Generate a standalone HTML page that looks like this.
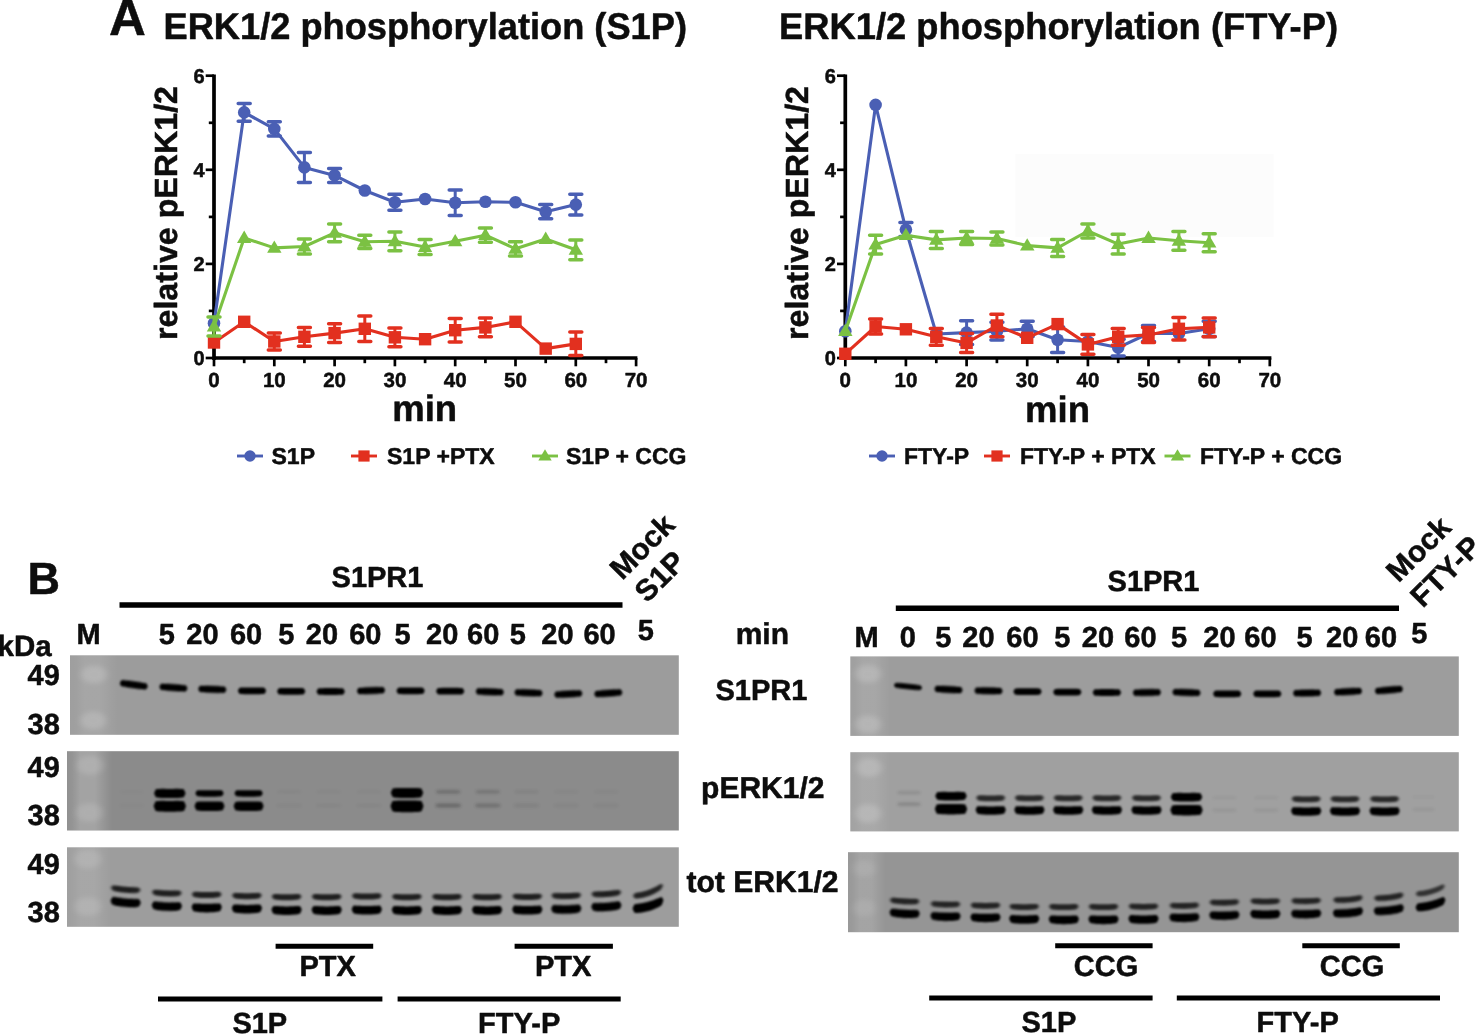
<!DOCTYPE html>
<html><head><meta charset="utf-8"><title>ERK1/2 phosphorylation</title>
<style>html,body{margin:0;padding:0;background:#fff}svg{display:block;opacity:.999}text{stroke:#0d0d0d;stroke-width:.5px;stroke-linejoin:round;text-rendering:geometricPrecision}</style></head>
<body>
<svg width="1475" height="1035" viewBox="0 0 1475 1035" font-family="Liberation Sans, Arial, Helvetica, sans-serif" font-weight="bold" fill="#0d0d0d">
<defs>
<filter id="b1" x="-20%" y="-100%" width="140%" height="300%"><feGaussianBlur stdDeviation="1.1 0.9"/></filter>
<filter id="b15" x="-20%" y="-100%" width="140%" height="300%"><feGaussianBlur stdDeviation="1.4 1.15"/></filter>
<filter id="b2" x="-30%" y="-100%" width="160%" height="300%"><feGaussianBlur stdDeviation="1.8 1.6"/></filter>
<filter id="b3" x="-50%" y="-50%" width="200%" height="200%"><feGaussianBlur stdDeviation="3.2 2.6"/></filter>
<linearGradient id="lane" x1="0" x2="1" y1="0" y2="0"><stop offset="0" stop-color="#fff" stop-opacity=".25"/><stop offset=".12" stop-color="#fff" stop-opacity=".4"/><stop offset=".3" stop-color="#fff" stop-opacity="1"/><stop offset=".62" stop-color="#fff" stop-opacity="1"/><stop offset=".82" stop-color="#fff" stop-opacity=".45"/><stop offset="1" stop-color="#fff" stop-opacity="0"/></linearGradient>
</defs>
<rect width="1475" height="1035" fill="#fff"/>

<text x="109" y="34.8" font-size="51" text-anchor="start" >A</text>
<text x="163.5" y="38.6" font-size="37.2" text-anchor="start" textLength="523.5" lengthAdjust="spacingAndGlyphs" >ERK1/2 phosphorylation (S1P)</text>
<text x="779" y="38.6" font-size="37.2" text-anchor="start" textLength="559" lengthAdjust="spacingAndGlyphs" >ERK1/2 phosphorylation (FTY-P)</text>
<rect x="1015.5" y="154" width="258" height="83" fill="#fcfcfc"/>
<path d="M214 74.4V359.9M212.2 358H637.4" stroke="#000" stroke-width="3.7" fill="none"/>
<path d="M205.7 358.0H214" stroke="#000" stroke-width="2.7"/>
<path d="M208.8 310.9H214" stroke="#000" stroke-width="2.7"/>
<path d="M205.7 263.9H214" stroke="#000" stroke-width="2.7"/>
<path d="M208.8 216.9H214" stroke="#000" stroke-width="2.7"/>
<path d="M205.7 169.8H214" stroke="#000" stroke-width="2.7"/>
<path d="M208.8 122.8H214" stroke="#000" stroke-width="2.7"/>
<path d="M205.7 75.7H214" stroke="#000" stroke-width="2.7"/>
<path d="M214.0 358V366.3" stroke="#000" stroke-width="2.7"/>
<path d="M244.2 358V363.2" stroke="#000" stroke-width="2.7"/>
<path d="M274.3 358V366.3" stroke="#000" stroke-width="2.7"/>
<path d="M304.4 358V363.2" stroke="#000" stroke-width="2.7"/>
<path d="M334.6 358V366.3" stroke="#000" stroke-width="2.7"/>
<path d="M364.8 358V363.2" stroke="#000" stroke-width="2.7"/>
<path d="M394.9 358V366.3" stroke="#000" stroke-width="2.7"/>
<path d="M425.1 358V363.2" stroke="#000" stroke-width="2.7"/>
<path d="M455.2 358V366.3" stroke="#000" stroke-width="2.7"/>
<path d="M485.4 358V363.2" stroke="#000" stroke-width="2.7"/>
<path d="M515.5 358V366.3" stroke="#000" stroke-width="2.7"/>
<path d="M545.7 358V363.2" stroke="#000" stroke-width="2.7"/>
<path d="M575.8 358V366.3" stroke="#000" stroke-width="2.7"/>
<path d="M606.0 358V363.2" stroke="#000" stroke-width="2.7"/>
<path d="M636.1 358V366.3" stroke="#000" stroke-width="2.7"/>
<polyline fill="none" stroke="#4a5fb4" stroke-width="3.1" stroke-linejoin="round" points="214.0,323.2 244.2,112.4 274.3,128.9 304.4,167.4 334.6,175.4 364.8,190.5 394.9,202.3 425.1,199.0 455.2,202.7 485.4,201.8 515.5,202.3 545.7,211.7 575.8,204.6"/>
<circle cx="214.0" cy="323.2" r="6.3" fill="#4a5fb4"/>
<path d="M244.2 103.5V121.3" stroke="#4a5fb4" stroke-width="3" fill="none"/>
<path d="M238.2 103.5h12M238.2 121.3h12" stroke="#4a5fb4" stroke-width="3.5" stroke-linecap="round" fill="none"/>
<circle cx="244.2" cy="112.4" r="6.3" fill="#4a5fb4"/>
<path d="M274.3 121.8V135.9" stroke="#4a5fb4" stroke-width="3" fill="none"/>
<path d="M268.3 121.8h12M268.3 135.9h12" stroke="#4a5fb4" stroke-width="3.5" stroke-linecap="round" fill="none"/>
<circle cx="274.3" cy="128.9" r="6.3" fill="#4a5fb4"/>
<path d="M304.4 152.4V182.5" stroke="#4a5fb4" stroke-width="3" fill="none"/>
<path d="M298.4 152.4h12M298.4 182.5h12" stroke="#4a5fb4" stroke-width="3.5" stroke-linecap="round" fill="none"/>
<circle cx="304.4" cy="167.4" r="6.3" fill="#4a5fb4"/>
<path d="M334.6 168.4V182.5" stroke="#4a5fb4" stroke-width="3" fill="none"/>
<path d="M328.6 168.4h12M328.6 182.5h12" stroke="#4a5fb4" stroke-width="3.5" stroke-linecap="round" fill="none"/>
<circle cx="334.6" cy="175.4" r="6.3" fill="#4a5fb4"/>
<circle cx="364.8" cy="190.5" r="6.3" fill="#4a5fb4"/>
<path d="M394.9 194.3V210.3" stroke="#4a5fb4" stroke-width="3" fill="none"/>
<path d="M388.9 194.3h12M388.9 210.3h12" stroke="#4a5fb4" stroke-width="3.5" stroke-linecap="round" fill="none"/>
<circle cx="394.9" cy="202.3" r="6.3" fill="#4a5fb4"/>
<circle cx="425.1" cy="199.0" r="6.3" fill="#4a5fb4"/>
<path d="M455.2 190.0V215.4" stroke="#4a5fb4" stroke-width="3" fill="none"/>
<path d="M449.2 190.0h12M449.2 215.4h12" stroke="#4a5fb4" stroke-width="3.5" stroke-linecap="round" fill="none"/>
<circle cx="455.2" cy="202.7" r="6.3" fill="#4a5fb4"/>
<circle cx="485.4" cy="201.8" r="6.3" fill="#4a5fb4"/>
<circle cx="515.5" cy="202.3" r="6.3" fill="#4a5fb4"/>
<path d="M545.7 204.6V218.7" stroke="#4a5fb4" stroke-width="3" fill="none"/>
<path d="M539.7 204.6h12M539.7 218.7h12" stroke="#4a5fb4" stroke-width="3.5" stroke-linecap="round" fill="none"/>
<circle cx="545.7" cy="211.7" r="6.3" fill="#4a5fb4"/>
<path d="M575.8 194.3V215.0" stroke="#4a5fb4" stroke-width="3" fill="none"/>
<path d="M569.8 194.3h12M569.8 215.0h12" stroke="#4a5fb4" stroke-width="3.5" stroke-linecap="round" fill="none"/>
<circle cx="575.8" cy="204.6" r="6.3" fill="#4a5fb4"/>
<polyline fill="none" stroke="#e2301f" stroke-width="3.1" stroke-linejoin="round" points="214.0,342.5 244.2,321.8 274.3,341.5 304.4,336.8 334.6,333.1 364.8,328.8 394.9,337.3 425.1,339.2 455.2,330.2 485.4,327.4 515.5,321.8 545.7,348.6 575.8,343.9"/>
<rect x="207.8" y="336.3" width="12.4" height="12.4" fill="#e2301f"/>
<rect x="238.0" y="315.6" width="12.4" height="12.4" fill="#e2301f"/>
<path d="M274.3 333.1V350.0" stroke="#e2301f" stroke-width="3" fill="none"/>
<path d="M268.3 333.1h12M268.3 350.0h12" stroke="#e2301f" stroke-width="3.5" stroke-linecap="round" fill="none"/>
<rect x="268.1" y="335.3" width="12.4" height="12.4" fill="#e2301f"/>
<path d="M304.4 327.4V346.2" stroke="#e2301f" stroke-width="3" fill="none"/>
<path d="M298.4 327.4h12M298.4 346.2h12" stroke="#e2301f" stroke-width="3.5" stroke-linecap="round" fill="none"/>
<rect x="298.2" y="330.6" width="12.4" height="12.4" fill="#e2301f"/>
<path d="M334.6 323.7V342.5" stroke="#e2301f" stroke-width="3" fill="none"/>
<path d="M328.6 323.7h12M328.6 342.5h12" stroke="#e2301f" stroke-width="3.5" stroke-linecap="round" fill="none"/>
<rect x="328.4" y="326.9" width="12.4" height="12.4" fill="#e2301f"/>
<path d="M364.8 316.1V341.5" stroke="#e2301f" stroke-width="3" fill="none"/>
<path d="M358.8 316.1h12M358.8 341.5h12" stroke="#e2301f" stroke-width="3.5" stroke-linecap="round" fill="none"/>
<rect x="358.6" y="322.6" width="12.4" height="12.4" fill="#e2301f"/>
<path d="M394.9 327.9V346.7" stroke="#e2301f" stroke-width="3" fill="none"/>
<path d="M388.9 327.9h12M388.9 346.7h12" stroke="#e2301f" stroke-width="3.5" stroke-linecap="round" fill="none"/>
<rect x="388.7" y="331.1" width="12.4" height="12.4" fill="#e2301f"/>
<rect x="418.9" y="333.0" width="12.4" height="12.4" fill="#e2301f"/>
<path d="M455.2 318.5V342.0" stroke="#e2301f" stroke-width="3" fill="none"/>
<path d="M449.2 318.5h12M449.2 342.0h12" stroke="#e2301f" stroke-width="3.5" stroke-linecap="round" fill="none"/>
<rect x="449.0" y="324.0" width="12.4" height="12.4" fill="#e2301f"/>
<path d="M485.4 318.0V336.8" stroke="#e2301f" stroke-width="3" fill="none"/>
<path d="M479.4 318.0h12M479.4 336.8h12" stroke="#e2301f" stroke-width="3.5" stroke-linecap="round" fill="none"/>
<rect x="479.2" y="321.2" width="12.4" height="12.4" fill="#e2301f"/>
<rect x="509.3" y="315.6" width="12.4" height="12.4" fill="#e2301f"/>
<rect x="539.5" y="342.4" width="12.4" height="12.4" fill="#e2301f"/>
<path d="M575.8 332.1V355.6" stroke="#e2301f" stroke-width="3" fill="none"/>
<path d="M569.8 332.1h12M569.8 355.6h12" stroke="#e2301f" stroke-width="3.5" stroke-linecap="round" fill="none"/>
<rect x="569.6" y="337.7" width="12.4" height="12.4" fill="#e2301f"/>
<polyline fill="none" stroke="#7bc143" stroke-width="3.1" stroke-linejoin="round" points="214.0,326.5 244.2,238.0 274.3,247.9 304.4,246.5 334.6,232.8 364.8,241.8 394.9,241.3 425.1,247.0 455.2,241.3 485.4,235.2 515.5,248.8 545.7,239.0 575.8,249.8"/>
<path d="M214.0 317.1V335.9" stroke="#7bc143" stroke-width="3" fill="none"/>
<path d="M208.0 317.1h12M208.0 335.9h12" stroke="#7bc143" stroke-width="3.5" stroke-linecap="round" fill="none"/>
<path d="M214.0 319.1L221.2 331.4H206.8Z" fill="#7bc143"/>
<path d="M244.2 230.6L251.3 242.9H237.0Z" fill="#7bc143"/>
<path d="M274.3 240.5L281.5 252.8H267.1Z" fill="#7bc143"/>
<path d="M304.4 239.0V254.0" stroke="#7bc143" stroke-width="3" fill="none"/>
<path d="M298.4 239.0h12M298.4 254.0h12" stroke="#7bc143" stroke-width="3.5" stroke-linecap="round" fill="none"/>
<path d="M304.4 239.1L311.6 251.4H297.2Z" fill="#7bc143"/>
<path d="M334.6 223.9V241.8" stroke="#7bc143" stroke-width="3" fill="none"/>
<path d="M328.6 223.9h12M328.6 241.8h12" stroke="#7bc143" stroke-width="3.5" stroke-linecap="round" fill="none"/>
<path d="M334.6 225.4L341.8 237.7H327.4Z" fill="#7bc143"/>
<path d="M364.8 235.2V248.4" stroke="#7bc143" stroke-width="3" fill="none"/>
<path d="M358.8 235.2h12M358.8 248.4h12" stroke="#7bc143" stroke-width="3.5" stroke-linecap="round" fill="none"/>
<path d="M364.8 234.4L371.9 246.7H357.6Z" fill="#7bc143"/>
<path d="M394.9 231.9V250.7" stroke="#7bc143" stroke-width="3" fill="none"/>
<path d="M388.9 231.9h12M388.9 250.7h12" stroke="#7bc143" stroke-width="3.5" stroke-linecap="round" fill="none"/>
<path d="M394.9 233.9L402.1 246.2H387.7Z" fill="#7bc143"/>
<path d="M425.1 239.4V254.5" stroke="#7bc143" stroke-width="3" fill="none"/>
<path d="M419.1 239.4h12M419.1 254.5h12" stroke="#7bc143" stroke-width="3.5" stroke-linecap="round" fill="none"/>
<path d="M425.1 239.6L432.2 251.9H417.9Z" fill="#7bc143"/>
<path d="M455.2 233.9L462.4 246.2H448.0Z" fill="#7bc143"/>
<path d="M485.4 228.1V242.3" stroke="#7bc143" stroke-width="3" fill="none"/>
<path d="M479.4 228.1h12M479.4 242.3h12" stroke="#7bc143" stroke-width="3.5" stroke-linecap="round" fill="none"/>
<path d="M485.4 227.8L492.6 240.1H478.2Z" fill="#7bc143"/>
<path d="M515.5 241.8V255.9" stroke="#7bc143" stroke-width="3" fill="none"/>
<path d="M509.5 241.8h12M509.5 255.9h12" stroke="#7bc143" stroke-width="3.5" stroke-linecap="round" fill="none"/>
<path d="M515.5 241.4L522.7 253.7H508.3Z" fill="#7bc143"/>
<path d="M545.7 231.6L552.9 243.9H538.5Z" fill="#7bc143"/>
<path d="M575.8 239.9V259.7" stroke="#7bc143" stroke-width="3" fill="none"/>
<path d="M569.8 239.9h12M569.8 259.7h12" stroke="#7bc143" stroke-width="3.5" stroke-linecap="round" fill="none"/>
<path d="M575.8 242.4L583.0 254.7H568.6Z" fill="#7bc143"/>
<text x="204.5" y="365.0" font-size="20" text-anchor="end" >0</text>
<text x="204.5" y="270.9" font-size="20" text-anchor="end" >2</text>
<text x="204.5" y="176.8" font-size="20" text-anchor="end" >4</text>
<text x="204.5" y="82.70000000000005" font-size="20" text-anchor="end" >6</text>
<text x="214.0" y="386.7" font-size="20.5" text-anchor="middle" >0</text>
<text x="274.3" y="386.7" font-size="20.5" text-anchor="middle" >10</text>
<text x="334.6" y="386.7" font-size="20.5" text-anchor="middle" >20</text>
<text x="394.9" y="386.7" font-size="20.5" text-anchor="middle" >30</text>
<text x="455.20000000000005" y="386.7" font-size="20.5" text-anchor="middle" >40</text>
<text x="515.5" y="386.7" font-size="20.5" text-anchor="middle" >50</text>
<text x="575.8" y="386.7" font-size="20.5" text-anchor="middle" >60</text>
<text x="636.1" y="386.7" font-size="20.5" text-anchor="middle" >70</text>
<path d="M845.3 74.4V359.9M843.4 358H1271.4" stroke="#000" stroke-width="3.7" fill="none"/>
<path d="M837.0 358.0H845.3" stroke="#000" stroke-width="2.7"/>
<path d="M840.1 310.9H845.3" stroke="#000" stroke-width="2.7"/>
<path d="M837.0 263.9H845.3" stroke="#000" stroke-width="2.7"/>
<path d="M840.1 216.9H845.3" stroke="#000" stroke-width="2.7"/>
<path d="M837.0 169.8H845.3" stroke="#000" stroke-width="2.7"/>
<path d="M840.1 122.8H845.3" stroke="#000" stroke-width="2.7"/>
<path d="M837.0 75.7H845.3" stroke="#000" stroke-width="2.7"/>
<path d="M845.3 358V366.3" stroke="#000" stroke-width="2.7"/>
<path d="M875.6 358V363.2" stroke="#000" stroke-width="2.7"/>
<path d="M905.9 358V366.3" stroke="#000" stroke-width="2.7"/>
<path d="M936.3 358V363.2" stroke="#000" stroke-width="2.7"/>
<path d="M966.6 358V366.3" stroke="#000" stroke-width="2.7"/>
<path d="M996.9 358V363.2" stroke="#000" stroke-width="2.7"/>
<path d="M1027.2 358V366.3" stroke="#000" stroke-width="2.7"/>
<path d="M1057.6 358V363.2" stroke="#000" stroke-width="2.7"/>
<path d="M1087.9 358V366.3" stroke="#000" stroke-width="2.7"/>
<path d="M1118.2 358V363.2" stroke="#000" stroke-width="2.7"/>
<path d="M1148.5 358V366.3" stroke="#000" stroke-width="2.7"/>
<path d="M1178.9 358V363.2" stroke="#000" stroke-width="2.7"/>
<path d="M1209.2 358V366.3" stroke="#000" stroke-width="2.7"/>
<path d="M1239.5 358V363.2" stroke="#000" stroke-width="2.7"/>
<path d="M1269.8 358V366.3" stroke="#000" stroke-width="2.7"/>
<polyline fill="none" stroke="#4a5fb4" stroke-width="3.1" stroke-linejoin="round" points="845.3,331.2 875.6,104.9 905.9,229.6 936.3,334.0 966.6,332.6 996.9,331.2 1027.2,328.8 1057.6,339.7 1087.9,341.5 1118.2,347.6 1148.5,333.5 1178.9,333.5 1209.2,328.8"/>
<circle cx="845.3" cy="331.2" r="6.3" fill="#4a5fb4"/>
<circle cx="875.6" cy="104.9" r="6.3" fill="#4a5fb4"/>
<path d="M905.9 222.5V236.6" stroke="#4a5fb4" stroke-width="3" fill="none"/>
<path d="M899.9 222.5h12M899.9 236.6h12" stroke="#4a5fb4" stroke-width="3.5" stroke-linecap="round" fill="none"/>
<circle cx="905.9" cy="229.6" r="6.3" fill="#4a5fb4"/>
<circle cx="936.3" cy="334.0" r="6.3" fill="#4a5fb4"/>
<path d="M966.6 320.8V344.4" stroke="#4a5fb4" stroke-width="3" fill="none"/>
<path d="M960.6 320.8h12M960.6 344.4h12" stroke="#4a5fb4" stroke-width="3.5" stroke-linecap="round" fill="none"/>
<circle cx="966.6" cy="332.6" r="6.3" fill="#4a5fb4"/>
<path d="M996.9 322.2V340.1" stroke="#4a5fb4" stroke-width="3" fill="none"/>
<path d="M990.9 322.2h12M990.9 340.1h12" stroke="#4a5fb4" stroke-width="3.5" stroke-linecap="round" fill="none"/>
<circle cx="996.9" cy="331.2" r="6.3" fill="#4a5fb4"/>
<path d="M1027.2 321.3V336.4" stroke="#4a5fb4" stroke-width="3" fill="none"/>
<path d="M1021.2 321.3h12M1021.2 336.4h12" stroke="#4a5fb4" stroke-width="3.5" stroke-linecap="round" fill="none"/>
<circle cx="1027.2" cy="328.8" r="6.3" fill="#4a5fb4"/>
<path d="M1057.6 326.9V352.4" stroke="#4a5fb4" stroke-width="3" fill="none"/>
<path d="M1051.6 326.9h12M1051.6 352.4h12" stroke="#4a5fb4" stroke-width="3.5" stroke-linecap="round" fill="none"/>
<circle cx="1057.6" cy="339.7" r="6.3" fill="#4a5fb4"/>
<circle cx="1087.9" cy="341.5" r="6.3" fill="#4a5fb4"/>
<path d="M1118.2 339.2V356.1" stroke="#4a5fb4" stroke-width="3" fill="none"/>
<path d="M1112.2 339.2h12M1112.2 356.1h12" stroke="#4a5fb4" stroke-width="3.5" stroke-linecap="round" fill="none"/>
<circle cx="1118.2" cy="347.6" r="6.3" fill="#4a5fb4"/>
<path d="M1148.5 325.5V341.5" stroke="#4a5fb4" stroke-width="3" fill="none"/>
<path d="M1142.5 325.5h12M1142.5 341.5h12" stroke="#4a5fb4" stroke-width="3.5" stroke-linecap="round" fill="none"/>
<circle cx="1148.5" cy="333.5" r="6.3" fill="#4a5fb4"/>
<circle cx="1178.9" cy="333.5" r="6.3" fill="#4a5fb4"/>
<path d="M1209.2 321.3V336.4" stroke="#4a5fb4" stroke-width="3" fill="none"/>
<path d="M1203.2 321.3h12M1203.2 336.4h12" stroke="#4a5fb4" stroke-width="3.5" stroke-linecap="round" fill="none"/>
<circle cx="1209.2" cy="328.8" r="6.3" fill="#4a5fb4"/>
<polyline fill="none" stroke="#e2301f" stroke-width="3.1" stroke-linejoin="round" points="845.3,353.8 875.6,326.5 905.9,329.3 936.3,336.8 966.6,342.9 996.9,325.5 1027.2,337.8 1057.6,324.1 1087.9,344.4 1118.2,336.8 1148.5,334.9 1178.9,328.8 1209.2,327.4"/>
<rect x="839.1" y="347.6" width="12.4" height="12.4" fill="#e2301f"/>
<path d="M875.6 318.9V334.0" stroke="#e2301f" stroke-width="3" fill="none"/>
<path d="M869.6 318.9h12M869.6 334.0h12" stroke="#e2301f" stroke-width="3.5" stroke-linecap="round" fill="none"/>
<rect x="869.4" y="320.3" width="12.4" height="12.4" fill="#e2301f"/>
<rect x="899.7" y="323.1" width="12.4" height="12.4" fill="#e2301f"/>
<path d="M936.3 328.4V345.3" stroke="#e2301f" stroke-width="3" fill="none"/>
<path d="M930.3 328.4h12M930.3 345.3h12" stroke="#e2301f" stroke-width="3.5" stroke-linecap="round" fill="none"/>
<rect x="930.1" y="330.6" width="12.4" height="12.4" fill="#e2301f"/>
<path d="M966.6 333.5V352.4" stroke="#e2301f" stroke-width="3" fill="none"/>
<path d="M960.6 333.5h12M960.6 352.4h12" stroke="#e2301f" stroke-width="3.5" stroke-linecap="round" fill="none"/>
<rect x="960.4" y="336.7" width="12.4" height="12.4" fill="#e2301f"/>
<path d="M996.9 314.2V336.8" stroke="#e2301f" stroke-width="3" fill="none"/>
<path d="M990.9 314.2h12M990.9 336.8h12" stroke="#e2301f" stroke-width="3.5" stroke-linecap="round" fill="none"/>
<rect x="990.7" y="319.3" width="12.4" height="12.4" fill="#e2301f"/>
<rect x="1021.0" y="331.6" width="12.4" height="12.4" fill="#e2301f"/>
<rect x="1051.4" y="317.9" width="12.4" height="12.4" fill="#e2301f"/>
<path d="M1087.9 334.5V354.2" stroke="#e2301f" stroke-width="3" fill="none"/>
<path d="M1081.9 334.5h12M1081.9 354.2h12" stroke="#e2301f" stroke-width="3.5" stroke-linecap="round" fill="none"/>
<rect x="1081.7" y="338.2" width="12.4" height="12.4" fill="#e2301f"/>
<path d="M1118.2 328.4V345.3" stroke="#e2301f" stroke-width="3" fill="none"/>
<path d="M1112.2 328.4h12M1112.2 345.3h12" stroke="#e2301f" stroke-width="3.5" stroke-linecap="round" fill="none"/>
<rect x="1112.0" y="330.6" width="12.4" height="12.4" fill="#e2301f"/>
<path d="M1148.5 327.4V342.5" stroke="#e2301f" stroke-width="3" fill="none"/>
<path d="M1142.5 327.4h12M1142.5 342.5h12" stroke="#e2301f" stroke-width="3.5" stroke-linecap="round" fill="none"/>
<rect x="1142.3" y="328.7" width="12.4" height="12.4" fill="#e2301f"/>
<path d="M1178.9 317.5V340.1" stroke="#e2301f" stroke-width="3" fill="none"/>
<path d="M1172.9 317.5h12M1172.9 340.1h12" stroke="#e2301f" stroke-width="3.5" stroke-linecap="round" fill="none"/>
<rect x="1172.7" y="322.6" width="12.4" height="12.4" fill="#e2301f"/>
<path d="M1209.2 318.0V336.8" stroke="#e2301f" stroke-width="3" fill="none"/>
<path d="M1203.2 318.0h12M1203.2 336.8h12" stroke="#e2301f" stroke-width="3.5" stroke-linecap="round" fill="none"/>
<rect x="1203.0" y="321.2" width="12.4" height="12.4" fill="#e2301f"/>
<polyline fill="none" stroke="#7bc143" stroke-width="3.1" stroke-linejoin="round" points="845.3,331.2 875.6,244.6 905.9,235.2 936.3,239.9 966.6,238.0 996.9,238.5 1027.2,245.6 1057.6,247.9 1087.9,231.0 1118.2,244.1 1148.5,238.0 1178.9,240.8 1209.2,242.7"/>
<path d="M845.3 323.8L852.5 336.1H838.1Z" fill="#7bc143"/>
<path d="M875.6 235.2V254.0" stroke="#7bc143" stroke-width="3" fill="none"/>
<path d="M869.6 235.2h12M869.6 254.0h12" stroke="#7bc143" stroke-width="3.5" stroke-linecap="round" fill="none"/>
<path d="M875.6 237.2L882.8 249.5H868.4Z" fill="#7bc143"/>
<path d="M905.9 227.8L913.1 240.1H898.7Z" fill="#7bc143"/>
<path d="M936.3 231.4V248.4" stroke="#7bc143" stroke-width="3" fill="none"/>
<path d="M930.3 231.4h12M930.3 248.4h12" stroke="#7bc143" stroke-width="3.5" stroke-linecap="round" fill="none"/>
<path d="M936.3 232.5L943.5 244.8H929.1Z" fill="#7bc143"/>
<path d="M966.6 231.4V244.6" stroke="#7bc143" stroke-width="3" fill="none"/>
<path d="M960.6 231.4h12M960.6 244.6h12" stroke="#7bc143" stroke-width="3.5" stroke-linecap="round" fill="none"/>
<path d="M966.6 230.6L973.8 242.9H959.4Z" fill="#7bc143"/>
<path d="M996.9 231.9V245.1" stroke="#7bc143" stroke-width="3" fill="none"/>
<path d="M990.9 231.9h12M990.9 245.1h12" stroke="#7bc143" stroke-width="3.5" stroke-linecap="round" fill="none"/>
<path d="M996.9 231.1L1004.1 243.4H989.7Z" fill="#7bc143"/>
<path d="M1027.2 238.2L1034.5 250.5H1020.0Z" fill="#7bc143"/>
<path d="M1057.6 239.4V256.4" stroke="#7bc143" stroke-width="3" fill="none"/>
<path d="M1051.6 239.4h12M1051.6 256.4h12" stroke="#7bc143" stroke-width="3.5" stroke-linecap="round" fill="none"/>
<path d="M1057.6 240.5L1064.8 252.8H1050.4Z" fill="#7bc143"/>
<path d="M1087.9 223.9V238.0" stroke="#7bc143" stroke-width="3" fill="none"/>
<path d="M1081.9 223.9h12M1081.9 238.0h12" stroke="#7bc143" stroke-width="3.5" stroke-linecap="round" fill="none"/>
<path d="M1087.9 223.6L1095.1 235.9H1080.7Z" fill="#7bc143"/>
<path d="M1118.2 234.3V254.0" stroke="#7bc143" stroke-width="3" fill="none"/>
<path d="M1112.2 234.3h12M1112.2 254.0h12" stroke="#7bc143" stroke-width="3.5" stroke-linecap="round" fill="none"/>
<path d="M1118.2 236.7L1125.4 249.0H1111.0Z" fill="#7bc143"/>
<path d="M1148.5 230.6L1155.8 242.9H1141.3Z" fill="#7bc143"/>
<path d="M1178.9 231.4V250.3" stroke="#7bc143" stroke-width="3" fill="none"/>
<path d="M1172.9 231.4h12M1172.9 250.3h12" stroke="#7bc143" stroke-width="3.5" stroke-linecap="round" fill="none"/>
<path d="M1178.9 233.4L1186.1 245.7H1171.7Z" fill="#7bc143"/>
<path d="M1209.2 233.8V251.7" stroke="#7bc143" stroke-width="3" fill="none"/>
<path d="M1203.2 233.8h12M1203.2 251.7h12" stroke="#7bc143" stroke-width="3.5" stroke-linecap="round" fill="none"/>
<path d="M1209.2 235.3L1216.4 247.6H1202.0Z" fill="#7bc143"/>
<text x="835.8" y="365.0" font-size="20" text-anchor="end" >0</text>
<text x="835.8" y="270.9" font-size="20" text-anchor="end" >2</text>
<text x="835.8" y="176.8" font-size="20" text-anchor="end" >4</text>
<text x="835.8" y="82.70000000000005" font-size="20" text-anchor="end" >6</text>
<text x="845.3" y="386.7" font-size="20.5" text-anchor="middle" >0</text>
<text x="905.9499999999999" y="386.7" font-size="20.5" text-anchor="middle" >10</text>
<text x="966.5999999999999" y="386.7" font-size="20.5" text-anchor="middle" >20</text>
<text x="1027.25" y="386.7" font-size="20.5" text-anchor="middle" >30</text>
<text x="1087.9" y="386.7" font-size="20.5" text-anchor="middle" >40</text>
<text x="1148.55" y="386.7" font-size="20.5" text-anchor="middle" >50</text>
<text x="1209.2" y="386.7" font-size="20.5" text-anchor="middle" >60</text>
<text x="1269.85" y="386.7" font-size="20.5" text-anchor="middle" >70</text>
<text transform="translate(176.5 340) rotate(-90)" font-size="32" textLength="254" lengthAdjust="spacingAndGlyphs">relative pERK1/2</text>
<text transform="translate(808 340) rotate(-90)" font-size="32" textLength="254" lengthAdjust="spacingAndGlyphs">relative pERK1/2</text>
<text x="424.7" y="421.4" font-size="36.5" text-anchor="middle" >min</text>
<text x="1057.5" y="421.6" font-size="36.5" text-anchor="middle" >min</text>
<path d="M237 456H263" stroke="#4a5fb4" stroke-width="2.9"/>
<circle cx="250" cy="456" r="5.7" fill="#4a5fb4"/>
<text x="271.5" y="463.6" font-size="23" text-anchor="start" >S1P</text>
<path d="M351 456H377" stroke="#e2301f" stroke-width="2.9"/>
<rect x="358.4" y="450.4" width="11.2" height="11.2" fill="#e2301f"/>
<text x="387" y="463.6" font-size="23" text-anchor="start" >S1P +PTX</text>
<path d="M532 456H558" stroke="#7bc143" stroke-width="2.9"/>
<path d="M545 449.2L551.7 460.6H538.3Z" fill="#7bc143"/>
<text x="566" y="463.6" font-size="23" text-anchor="start" >S1P + CCG</text>
<path d="M869 456H895" stroke="#4a5fb4" stroke-width="2.9"/>
<circle cx="882" cy="456" r="5.7" fill="#4a5fb4"/>
<text x="904" y="463.6" font-size="23" text-anchor="start" >FTY-P</text>
<path d="M984 456H1010" stroke="#e2301f" stroke-width="2.9"/>
<rect x="991.4" y="450.4" width="11.2" height="11.2" fill="#e2301f"/>
<text x="1020" y="463.6" font-size="23" text-anchor="start" >FTY-P + PTX</text>
<path d="M1164.5 456H1190.5" stroke="#7bc143" stroke-width="2.9"/>
<path d="M1177.5 449.2L1184.2 460.6H1170.8Z" fill="#7bc143"/>
<text x="1200" y="463.6" font-size="23" text-anchor="start" >FTY-P + CCG</text>
<text x="27.5" y="594" font-size="45" text-anchor="start" >B</text>
<clipPath id="c655"><rect x="70" y="655.3" width="608.8" height="79.5"/></clipPath>
<rect x="70" y="655.3" width="608.8" height="79.5" fill="#9c9c9c"/>
<rect x="70" y="655.3" width="48" height="79.5" fill="url(#lane)" opacity="0.1"/>
<ellipse cx="94.0" cy="674.4" rx="13.0" ry="9.0" fill="#fff" opacity="0.165" filter="url(#b3)"/>
<ellipse cx="93.3" cy="720.5" rx="13.0" ry="9.0" fill="#fff" opacity="0.154" filter="url(#b3)"/>
<path d="M-14.2 0.00L-12.7 -2.89L-11.1 -3.18L-9.5 -3.31L-7.9 -3.36L-6.3 -3.39L-4.8 -3.40L-3.2 -3.40L-1.6 -3.40L0.0 -3.40L1.6 -3.40L3.2 -3.40L4.7 -3.40L6.3 -3.39L7.9 -3.36L9.5 -3.31L11.1 -3.18L12.7 -2.89L14.2 0.00L14.2 0.00L12.7 2.89L11.1 3.18L9.5 3.31L7.9 3.36L6.3 3.39L4.7 3.40L3.2 3.40L1.6 3.40L0.0 3.40L-1.6 3.40L-3.2 3.40L-4.8 3.40L-6.3 3.39L-7.9 3.36L-9.5 3.31L-11.1 3.18L-12.7 2.89L-14.2 0.00Z" transform="translate(133.8 684.8) rotate(8)" fill="#040404" opacity="1.0" filter="url(#b1)"/>
<path d="M-14.2 0.00L-12.7 -2.89L-11.1 -3.18L-9.5 -3.31L-7.9 -3.36L-6.3 -3.39L-4.8 -3.40L-3.2 -3.40L-1.6 -3.40L0.0 -3.40L1.6 -3.40L3.2 -3.40L4.7 -3.40L6.3 -3.39L7.9 -3.36L9.5 -3.31L11.1 -3.18L12.7 -2.89L14.2 0.00L14.2 0.00L12.7 2.89L11.1 3.18L9.5 3.31L7.9 3.36L6.3 3.39L4.7 3.40L3.2 3.40L1.6 3.40L0.0 3.40L-1.6 3.40L-3.2 3.40L-4.8 3.40L-6.3 3.39L-7.9 3.36L-9.5 3.31L-11.1 3.18L-12.7 2.89L-14.2 0.00Z" transform="translate(173.4 687.6) rotate(4)" fill="#040404" opacity="1.0" filter="url(#b1)"/>
<path d="M-14.2 0.00L-12.7 -2.89L-11.1 -3.18L-9.5 -3.31L-7.9 -3.36L-6.3 -3.39L-4.8 -3.40L-3.2 -3.40L-1.6 -3.40L0.0 -3.40L1.6 -3.40L3.2 -3.40L4.7 -3.40L6.3 -3.39L7.9 -3.36L9.5 -3.31L11.1 -3.18L12.7 -2.89L14.2 0.00L14.2 0.00L12.7 2.89L11.1 3.18L9.5 3.31L7.9 3.36L6.3 3.39L4.7 3.40L3.2 3.40L1.6 3.40L0.0 3.40L-1.6 3.40L-3.2 3.40L-4.8 3.40L-6.3 3.39L-7.9 3.36L-9.5 3.31L-11.1 3.18L-12.7 2.89L-14.2 0.00Z" transform="translate(212.3 689.3) rotate(2)" fill="#040404" opacity="1.0" filter="url(#b1)"/>
<path d="M-14.2 0.00L-12.7 -2.89L-11.1 -3.18L-9.5 -3.31L-7.9 -3.36L-6.3 -3.39L-4.8 -3.40L-3.2 -3.40L-1.6 -3.40L0.0 -3.40L1.6 -3.40L3.2 -3.40L4.7 -3.40L6.3 -3.39L7.9 -3.36L9.5 -3.31L11.1 -3.18L12.7 -2.89L14.2 0.00L14.2 0.00L12.7 2.89L11.1 3.18L9.5 3.31L7.9 3.36L6.3 3.39L4.7 3.40L3.2 3.40L1.6 3.40L0.0 3.40L-1.6 3.40L-3.2 3.40L-4.8 3.40L-6.3 3.39L-7.9 3.36L-9.5 3.31L-11.1 3.18L-12.7 2.89L-14.2 0.00Z" transform="translate(252.0 690.8)" fill="#040404" opacity="1.0" filter="url(#b1)"/>
<path d="M-14.2 0.00L-12.7 -2.89L-11.1 -3.18L-9.5 -3.31L-7.9 -3.36L-6.3 -3.39L-4.8 -3.40L-3.2 -3.40L-1.6 -3.40L0.0 -3.40L1.6 -3.40L3.2 -3.40L4.7 -3.40L6.3 -3.39L7.9 -3.36L9.5 -3.31L11.1 -3.18L12.7 -2.89L14.2 0.00L14.2 0.00L12.7 2.89L11.1 3.18L9.5 3.31L7.9 3.36L6.3 3.39L4.7 3.40L3.2 3.40L1.6 3.40L0.0 3.40L-1.6 3.40L-3.2 3.40L-4.8 3.40L-6.3 3.39L-7.9 3.36L-9.5 3.31L-11.1 3.18L-12.7 2.89L-14.2 0.00Z" transform="translate(291.2 691.3)" fill="#040404" opacity="1.0" filter="url(#b1)"/>
<path d="M-14.2 0.00L-12.7 -2.89L-11.1 -3.18L-9.5 -3.31L-7.9 -3.36L-6.3 -3.39L-4.8 -3.40L-3.2 -3.40L-1.6 -3.40L0.0 -3.40L1.6 -3.40L3.2 -3.40L4.7 -3.40L6.3 -3.39L7.9 -3.36L9.5 -3.31L11.1 -3.18L12.7 -2.89L14.2 0.00L14.2 0.00L12.7 2.89L11.1 3.18L9.5 3.31L7.9 3.36L6.3 3.39L4.7 3.40L3.2 3.40L1.6 3.40L0.0 3.40L-1.6 3.40L-3.2 3.40L-4.8 3.40L-6.3 3.39L-7.9 3.36L-9.5 3.31L-11.1 3.18L-12.7 2.89L-14.2 0.00Z" transform="translate(330.7 691.5)" fill="#040404" opacity="1.0" filter="url(#b1)"/>
<path d="M-14.2 0.00L-12.7 -2.89L-11.1 -3.18L-9.5 -3.31L-7.9 -3.36L-6.3 -3.39L-4.8 -3.40L-3.2 -3.40L-1.6 -3.40L0.0 -3.40L1.6 -3.40L3.2 -3.40L4.7 -3.40L6.3 -3.39L7.9 -3.36L9.5 -3.31L11.1 -3.18L12.7 -2.89L14.2 0.00L14.2 0.00L12.7 2.89L11.1 3.18L9.5 3.31L7.9 3.36L6.3 3.39L4.7 3.40L3.2 3.40L1.6 3.40L0.0 3.40L-1.6 3.40L-3.2 3.40L-4.8 3.40L-6.3 3.39L-7.9 3.36L-9.5 3.31L-11.1 3.18L-12.7 2.89L-14.2 0.00Z" transform="translate(371.0 690.6) rotate(-2)" fill="#040404" opacity="1.0" filter="url(#b1)"/>
<path d="M-14.2 0.00L-12.7 -2.89L-11.1 -3.18L-9.5 -3.31L-7.9 -3.36L-6.3 -3.39L-4.8 -3.40L-3.2 -3.40L-1.6 -3.40L0.0 -3.40L1.6 -3.40L3.2 -3.40L4.7 -3.40L6.3 -3.39L7.9 -3.36L9.5 -3.31L11.1 -3.18L12.7 -2.89L14.2 0.00L14.2 0.00L12.7 2.89L11.1 3.18L9.5 3.31L7.9 3.36L6.3 3.39L4.7 3.40L3.2 3.40L1.6 3.40L0.0 3.40L-1.6 3.40L-3.2 3.40L-4.8 3.40L-6.3 3.39L-7.9 3.36L-9.5 3.31L-11.1 3.18L-12.7 2.89L-14.2 0.00Z" transform="translate(410.6 690.8)" fill="#040404" opacity="1.0" filter="url(#b1)"/>
<path d="M-14.2 0.00L-12.7 -2.89L-11.1 -3.18L-9.5 -3.31L-7.9 -3.36L-6.3 -3.39L-4.8 -3.40L-3.2 -3.40L-1.6 -3.40L0.0 -3.40L1.6 -3.40L3.2 -3.40L4.7 -3.40L6.3 -3.39L7.9 -3.36L9.5 -3.31L11.1 -3.18L12.7 -2.89L14.2 0.00L14.2 0.00L12.7 2.89L11.1 3.18L9.5 3.31L7.9 3.36L6.3 3.39L4.7 3.40L3.2 3.40L1.6 3.40L0.0 3.40L-1.6 3.40L-3.2 3.40L-4.8 3.40L-6.3 3.39L-7.9 3.36L-9.5 3.31L-11.1 3.18L-12.7 2.89L-14.2 0.00Z" transform="translate(450.2 691.2)" fill="#040404" opacity="1.0" filter="url(#b1)"/>
<path d="M-14.2 0.00L-12.7 -2.89L-11.1 -3.18L-9.5 -3.31L-7.9 -3.36L-6.3 -3.39L-4.8 -3.40L-3.2 -3.40L-1.6 -3.40L0.0 -3.40L1.6 -3.40L3.2 -3.40L4.7 -3.40L6.3 -3.39L7.9 -3.36L9.5 -3.31L11.1 -3.18L12.7 -2.89L14.2 0.00L14.2 0.00L12.7 2.89L11.1 3.18L9.5 3.31L7.9 3.36L6.3 3.39L4.7 3.40L3.2 3.40L1.6 3.40L0.0 3.40L-1.6 3.40L-3.2 3.40L-4.8 3.40L-6.3 3.39L-7.9 3.36L-9.5 3.31L-11.1 3.18L-12.7 2.89L-14.2 0.00Z" transform="translate(489.8 691.8) rotate(2)" fill="#040404" opacity="1.0" filter="url(#b1)"/>
<path d="M-14.2 0.00L-12.7 -2.89L-11.1 -3.18L-9.5 -3.31L-7.9 -3.36L-6.3 -3.39L-4.8 -3.40L-3.2 -3.40L-1.6 -3.40L0.0 -3.40L1.6 -3.40L3.2 -3.40L4.7 -3.40L6.3 -3.39L7.9 -3.36L9.5 -3.31L11.1 -3.18L12.7 -2.89L14.2 0.00L14.2 0.00L12.7 2.89L11.1 3.18L9.5 3.31L7.9 3.36L6.3 3.39L4.7 3.40L3.2 3.40L1.6 3.40L0.0 3.40L-1.6 3.40L-3.2 3.40L-4.8 3.40L-6.3 3.39L-7.9 3.36L-9.5 3.31L-11.1 3.18L-12.7 2.89L-14.2 0.00Z" transform="translate(528.5 692.8) rotate(2)" fill="#040404" opacity="1.0" filter="url(#b1)"/>
<path d="M-14.2 0.00L-12.7 -2.89L-11.1 -3.18L-9.5 -3.31L-7.9 -3.36L-6.3 -3.39L-4.8 -3.40L-3.2 -3.40L-1.6 -3.40L0.0 -3.40L1.6 -3.40L3.2 -3.40L4.7 -3.40L6.3 -3.39L7.9 -3.36L9.5 -3.31L11.1 -3.18L12.7 -2.89L14.2 0.00L14.2 0.00L12.7 2.89L11.1 3.18L9.5 3.31L7.9 3.36L6.3 3.39L4.7 3.40L3.2 3.40L1.6 3.40L0.0 3.40L-1.6 3.40L-3.2 3.40L-4.8 3.40L-6.3 3.39L-7.9 3.36L-9.5 3.31L-11.1 3.18L-12.7 2.89L-14.2 0.00Z" transform="translate(568.3 694.0) rotate(-3)" fill="#040404" opacity="1.0" filter="url(#b1)"/>
<path d="M-14.2 0.00L-12.7 -2.89L-11.1 -3.18L-9.5 -3.31L-7.9 -3.36L-6.3 -3.39L-4.8 -3.40L-3.2 -3.40L-1.6 -3.40L0.0 -3.40L1.6 -3.40L3.2 -3.40L4.7 -3.40L6.3 -3.39L7.9 -3.36L9.5 -3.31L11.1 -3.18L12.7 -2.89L14.2 0.00L14.2 0.00L12.7 2.89L11.1 3.18L9.5 3.31L7.9 3.36L6.3 3.39L4.7 3.40L3.2 3.40L1.6 3.40L0.0 3.40L-1.6 3.40L-3.2 3.40L-4.8 3.40L-6.3 3.39L-7.9 3.36L-9.5 3.31L-11.1 3.18L-12.7 2.89L-14.2 0.00Z" transform="translate(608.3 693.2) rotate(-4)" fill="#040404" opacity="1.0" filter="url(#b1)"/>
<clipPath id="c751"><rect x="67" y="751.2" width="611.8" height="79.3"/></clipPath>
<rect x="67" y="751.2" width="611.8" height="79.3" fill="#8b8b8b"/>
<rect x="67" y="751.2" width="45" height="79.3" fill="url(#lane)" opacity="0.21"/>
<ellipse cx="90.3" cy="765.2" rx="13.5" ry="9.5" fill="#fff" opacity="0.132" filter="url(#b3)"/>
<ellipse cx="89.4" cy="812.5" rx="13.5" ry="9.5" fill="#fff" opacity="0.121" filter="url(#b3)"/>
<path d="M-15.8 -0.30L-14.0 -4.15L-12.2 -4.48L-10.5 -4.61L-8.8 -4.64L-7.0 -4.64L-5.3 -4.63L-3.5 -4.61L-1.8 -4.60L0.0 -4.60L1.8 -4.60L3.5 -4.61L5.2 -4.63L7.0 -4.64L8.8 -4.64L10.5 -4.61L12.2 -4.48L14.0 -4.15L15.8 -0.30L15.8 -0.30L14.0 3.68L12.2 4.12L10.5 4.34L8.8 4.46L7.0 4.52L5.2 4.56L3.5 4.58L1.8 4.60L0.0 4.60L-1.8 4.60L-3.5 4.58L-5.3 4.56L-7.0 4.52L-8.8 4.46L-10.5 4.34L-12.2 4.12L-14.0 3.68L-15.8 -0.30Z" transform="translate(169.8 793.5)" fill="#040404" opacity="1.0" filter="url(#b1)"/>
<path d="M-16.2 -0.30L-14.4 -4.83L-12.6 -5.23L-10.8 -5.38L-9.0 -5.43L-7.2 -5.44L-5.4 -5.43L-3.6 -5.41L-1.8 -5.40L0.0 -5.40L1.8 -5.40L3.6 -5.41L5.4 -5.43L7.2 -5.44L9.0 -5.43L10.8 -5.38L12.6 -5.23L14.4 -4.83L16.2 -0.30L16.2 -0.30L14.4 4.36L12.6 4.87L10.8 5.12L9.0 5.25L7.2 5.32L5.4 5.36L3.6 5.38L1.8 5.40L0.0 5.40L-1.8 5.40L-3.6 5.38L-5.4 5.36L-7.2 5.32L-9.0 5.25L-10.8 5.12L-12.6 4.87L-14.4 4.36L-16.2 -0.30Z" transform="translate(169.8 806.3)" fill="#040404" opacity="1.0" filter="url(#b1)"/>
<path d="M-14.2 -0.30L-12.7 -2.96L-11.1 -3.17L-9.5 -3.24L-7.9 -3.26L-6.3 -3.25L-4.8 -3.23L-3.2 -3.21L-1.6 -3.20L0.0 -3.20L1.6 -3.20L3.2 -3.21L4.7 -3.23L6.3 -3.25L7.9 -3.26L9.5 -3.24L11.1 -3.17L12.7 -2.96L14.2 -0.30L14.2 -0.30L12.7 2.48L11.1 2.81L9.5 2.98L7.9 3.07L6.3 3.13L4.7 3.16L3.2 3.18L1.6 3.20L0.0 3.20L-1.6 3.20L-3.2 3.18L-4.8 3.16L-6.3 3.13L-7.9 3.07L-9.5 2.98L-11.1 2.81L-12.7 2.48L-14.2 -0.30Z" transform="translate(209.5 793.5)" fill="#040404" opacity="1.0" filter="url(#b1)"/>
<path d="M-15.0 -0.30L-13.3 -4.32L-11.7 -4.67L-10.0 -4.80L-8.3 -4.84L-6.7 -4.84L-5.0 -4.83L-3.3 -4.81L-1.7 -4.80L0.0 -4.80L1.7 -4.80L3.3 -4.81L5.0 -4.83L6.7 -4.84L8.3 -4.84L10.0 -4.80L11.7 -4.67L13.3 -4.32L15.0 -0.30L15.0 -0.30L13.3 3.85L11.7 4.31L10.0 4.53L8.3 4.66L6.7 4.72L5.0 4.76L3.3 4.78L1.7 4.80L0.0 4.80L-1.7 4.80L-3.3 4.78L-5.0 4.76L-6.7 4.72L-8.3 4.66L-10.0 4.53L-11.7 4.31L-13.3 3.85L-15.0 -0.30Z" transform="translate(209.5 806.3)" fill="#040404" opacity="1.0" filter="url(#b1)"/>
<path d="M-14.2 -0.30L-12.7 -2.96L-11.1 -3.17L-9.5 -3.24L-7.9 -3.26L-6.3 -3.25L-4.8 -3.23L-3.2 -3.21L-1.6 -3.20L0.0 -3.20L1.6 -3.20L3.2 -3.21L4.7 -3.23L6.3 -3.25L7.9 -3.26L9.5 -3.24L11.1 -3.17L12.7 -2.96L14.2 -0.30L14.2 -0.30L12.7 2.48L11.1 2.81L9.5 2.98L7.9 3.07L6.3 3.13L4.7 3.16L3.2 3.18L1.6 3.20L0.0 3.20L-1.6 3.20L-3.2 3.18L-4.8 3.16L-6.3 3.13L-7.9 3.07L-9.5 2.98L-11.1 2.81L-12.7 2.48L-14.2 -0.30Z" transform="translate(248.6 793.5)" fill="#040404" opacity="1.0" filter="url(#b1)"/>
<path d="M-15.0 -0.30L-13.3 -4.32L-11.7 -4.67L-10.0 -4.80L-8.3 -4.84L-6.7 -4.84L-5.0 -4.83L-3.3 -4.81L-1.7 -4.80L0.0 -4.80L1.7 -4.80L3.3 -4.81L5.0 -4.83L6.7 -4.84L8.3 -4.84L10.0 -4.80L11.7 -4.67L13.3 -4.32L15.0 -0.30L15.0 -0.30L13.3 3.85L11.7 4.31L10.0 4.53L8.3 4.66L6.7 4.72L5.0 4.76L3.3 4.78L1.7 4.80L0.0 4.80L-1.7 4.80L-3.3 4.78L-5.0 4.76L-6.7 4.72L-8.3 4.66L-10.0 4.53L-11.7 4.31L-13.3 3.85L-15.0 -0.30Z" transform="translate(248.6 806.3)" fill="#040404" opacity="1.0" filter="url(#b1)"/>
<path d="M-16.2 -0.30L-14.4 -4.49L-12.6 -4.86L-10.8 -4.99L-9.0 -5.04L-7.2 -5.04L-5.4 -5.03L-3.6 -5.01L-1.8 -5.00L0.0 -5.00L1.8 -5.00L3.6 -5.01L5.4 -5.03L7.2 -5.04L9.0 -5.04L10.8 -4.99L12.6 -4.86L14.4 -4.49L16.2 -0.30L16.2 -0.30L14.4 4.02L12.6 4.49L10.8 4.73L9.0 4.85L7.2 4.92L5.4 4.96L3.6 4.98L1.8 5.00L0.0 5.00L-1.8 5.00L-3.6 4.98L-5.4 4.96L-7.2 4.92L-9.0 4.85L-10.8 4.73L-12.6 4.49L-14.4 4.02L-16.2 -0.30Z" transform="translate(407.0 793.0)" fill="#040404" opacity="1.0" filter="url(#b1)"/>
<path d="M-16.5 -0.30L-14.7 -5.17L-12.8 -5.61L-11.0 -5.77L-9.2 -5.83L-7.3 -5.84L-5.5 -5.83L-3.7 -5.81L-1.8 -5.80L0.0 -5.80L1.8 -5.80L3.7 -5.81L5.5 -5.83L7.3 -5.84L9.2 -5.83L11.0 -5.77L12.8 -5.61L14.7 -5.17L16.5 -0.30L16.5 -0.30L14.7 4.70L12.8 5.24L11.0 5.51L9.2 5.64L7.3 5.72L5.5 5.76L3.7 5.78L1.8 5.80L0.0 5.80L-1.8 5.80L-3.7 5.78L-5.5 5.76L-7.3 5.72L-9.2 5.64L-11.0 5.51L-12.8 5.24L-14.7 4.70L-16.5 -0.30Z" transform="translate(407.0 806.4)" fill="#040404" opacity="1.0" filter="url(#b1)"/>
<path d="M-12.5 0.00L-11.1 -1.45L-9.7 -1.59L-8.3 -1.65L-6.9 -1.68L-5.6 -1.69L-4.2 -1.70L-2.8 -1.70L-1.4 -1.70L0.0 -1.70L1.4 -1.70L2.8 -1.70L4.2 -1.70L5.6 -1.69L6.9 -1.68L8.3 -1.65L9.7 -1.59L11.1 -1.45L12.5 0.00L12.5 0.00L11.1 1.45L9.7 1.59L8.3 1.65L6.9 1.68L5.6 1.69L4.2 1.70L2.8 1.70L1.4 1.70L0.0 1.70L-1.4 1.70L-2.8 1.70L-4.2 1.70L-5.6 1.69L-6.9 1.68L-8.3 1.65L-9.7 1.59L-11.1 1.45L-12.5 0.00Z" transform="translate(448.2 791.8)" fill="#1a1a1a" opacity="0.26" filter="url(#b2)"/>
<path d="M-13.0 0.00L-11.6 -1.70L-10.1 -1.87L-8.7 -1.94L-7.2 -1.98L-5.8 -1.99L-4.3 -2.00L-2.9 -2.00L-1.4 -2.00L0.0 -2.00L1.4 -2.00L2.9 -2.00L4.3 -2.00L5.8 -1.99L7.2 -1.98L8.7 -1.94L10.1 -1.87L11.6 -1.70L13.0 0.00L13.0 0.00L11.6 1.70L10.1 1.87L8.7 1.94L7.2 1.98L5.8 1.99L4.3 2.00L2.9 2.00L1.4 2.00L0.0 2.00L-1.4 2.00L-2.9 2.00L-4.3 2.00L-5.8 1.99L-7.2 1.98L-8.7 1.94L-10.1 1.87L-11.6 1.70L-13.0 0.00Z" transform="translate(448.2 805.5)" fill="#1a1a1a" opacity="0.299" filter="url(#b2)"/>
<path d="M-12.5 0.00L-11.1 -1.45L-9.7 -1.59L-8.3 -1.65L-6.9 -1.68L-5.6 -1.69L-4.2 -1.70L-2.8 -1.70L-1.4 -1.70L0.0 -1.70L1.4 -1.70L2.8 -1.70L4.2 -1.70L5.6 -1.69L6.9 -1.68L8.3 -1.65L9.7 -1.59L11.1 -1.45L12.5 0.00L12.5 0.00L11.1 1.45L9.7 1.59L8.3 1.65L6.9 1.68L5.6 1.69L4.2 1.70L2.8 1.70L1.4 1.70L0.0 1.70L-1.4 1.70L-2.8 1.70L-4.2 1.70L-5.6 1.69L-6.9 1.68L-8.3 1.65L-9.7 1.59L-11.1 1.45L-12.5 0.00Z" transform="translate(487.8 791.8)" fill="#1a1a1a" opacity="0.2" filter="url(#b2)"/>
<path d="M-13.0 0.00L-11.6 -1.70L-10.1 -1.87L-8.7 -1.94L-7.2 -1.98L-5.8 -1.99L-4.3 -2.00L-2.9 -2.00L-1.4 -2.00L0.0 -2.00L1.4 -2.00L2.9 -2.00L4.3 -2.00L5.8 -1.99L7.2 -1.98L8.7 -1.94L10.1 -1.87L11.6 -1.70L13.0 0.00L13.0 0.00L11.6 1.70L10.1 1.87L8.7 1.94L7.2 1.98L5.8 1.99L4.3 2.00L2.9 2.00L1.4 2.00L0.0 2.00L-1.4 2.00L-2.9 2.00L-4.3 2.00L-5.8 1.99L-7.2 1.98L-8.7 1.94L-10.1 1.87L-11.6 1.70L-13.0 0.00Z" transform="translate(487.8 805.5)" fill="#1a1a1a" opacity="0.22999999999999998" filter="url(#b2)"/>
<path d="M-12.5 0.00L-11.1 -1.45L-9.7 -1.59L-8.3 -1.65L-6.9 -1.68L-5.6 -1.69L-4.2 -1.70L-2.8 -1.70L-1.4 -1.70L0.0 -1.70L1.4 -1.70L2.8 -1.70L4.2 -1.70L5.6 -1.69L6.9 -1.68L8.3 -1.65L9.7 -1.59L11.1 -1.45L12.5 0.00L12.5 0.00L11.1 1.45L9.7 1.59L8.3 1.65L6.9 1.68L5.6 1.69L4.2 1.70L2.8 1.70L1.4 1.70L0.0 1.70L-1.4 1.70L-2.8 1.70L-4.2 1.70L-5.6 1.69L-6.9 1.68L-8.3 1.65L-9.7 1.59L-11.1 1.45L-12.5 0.00Z" transform="translate(526.5 791.8)" fill="#1a1a1a" opacity="0.07" filter="url(#b2)"/>
<path d="M-13.0 0.00L-11.6 -1.70L-10.1 -1.87L-8.7 -1.94L-7.2 -1.98L-5.8 -1.99L-4.3 -2.00L-2.9 -2.00L-1.4 -2.00L0.0 -2.00L1.4 -2.00L2.9 -2.00L4.3 -2.00L5.8 -1.99L7.2 -1.98L8.7 -1.94L10.1 -1.87L11.6 -1.70L13.0 0.00L13.0 0.00L11.6 1.70L10.1 1.87L8.7 1.94L7.2 1.98L5.8 1.99L4.3 2.00L2.9 2.00L1.4 2.00L0.0 2.00L-1.4 2.00L-2.9 2.00L-4.3 2.00L-5.8 1.99L-7.2 1.98L-8.7 1.94L-10.1 1.87L-11.6 1.70L-13.0 0.00Z" transform="translate(526.5 805.5)" fill="#1a1a1a" opacity="0.0805" filter="url(#b2)"/>
<path d="M-12.5 0.00L-11.1 -1.45L-9.7 -1.59L-8.3 -1.65L-6.9 -1.68L-5.6 -1.69L-4.2 -1.70L-2.8 -1.70L-1.4 -1.70L0.0 -1.70L1.4 -1.70L2.8 -1.70L4.2 -1.70L5.6 -1.69L6.9 -1.68L8.3 -1.65L9.7 -1.59L11.1 -1.45L12.5 0.00L12.5 0.00L11.1 1.45L9.7 1.59L8.3 1.65L6.9 1.68L5.6 1.69L4.2 1.70L2.8 1.70L1.4 1.70L0.0 1.70L-1.4 1.70L-2.8 1.70L-4.2 1.70L-5.6 1.69L-6.9 1.68L-8.3 1.65L-9.7 1.59L-11.1 1.45L-12.5 0.00Z" transform="translate(566.3 791.8)" fill="#1a1a1a" opacity="0.04" filter="url(#b2)"/>
<path d="M-13.0 0.00L-11.6 -1.70L-10.1 -1.87L-8.7 -1.94L-7.2 -1.98L-5.8 -1.99L-4.3 -2.00L-2.9 -2.00L-1.4 -2.00L0.0 -2.00L1.4 -2.00L2.9 -2.00L4.3 -2.00L5.8 -1.99L7.2 -1.98L8.7 -1.94L10.1 -1.87L11.6 -1.70L13.0 0.00L13.0 0.00L11.6 1.70L10.1 1.87L8.7 1.94L7.2 1.98L5.8 1.99L4.3 2.00L2.9 2.00L1.4 2.00L0.0 2.00L-1.4 2.00L-2.9 2.00L-4.3 2.00L-5.8 1.99L-7.2 1.98L-8.7 1.94L-10.1 1.87L-11.6 1.70L-13.0 0.00Z" transform="translate(566.3 805.5)" fill="#1a1a1a" opacity="0.046" filter="url(#b2)"/>
<path d="M-12.5 0.00L-11.1 -1.45L-9.7 -1.59L-8.3 -1.65L-6.9 -1.68L-5.6 -1.69L-4.2 -1.70L-2.8 -1.70L-1.4 -1.70L0.0 -1.70L1.4 -1.70L2.8 -1.70L4.2 -1.70L5.6 -1.69L6.9 -1.68L8.3 -1.65L9.7 -1.59L11.1 -1.45L12.5 0.00L12.5 0.00L11.1 1.45L9.7 1.59L8.3 1.65L6.9 1.68L5.6 1.69L4.2 1.70L2.8 1.70L1.4 1.70L0.0 1.70L-1.4 1.70L-2.8 1.70L-4.2 1.70L-5.6 1.69L-6.9 1.68L-8.3 1.65L-9.7 1.59L-11.1 1.45L-12.5 0.00Z" transform="translate(606.3 791.8)" fill="#1a1a1a" opacity="0.04" filter="url(#b2)"/>
<path d="M-13.0 0.00L-11.6 -1.70L-10.1 -1.87L-8.7 -1.94L-7.2 -1.98L-5.8 -1.99L-4.3 -2.00L-2.9 -2.00L-1.4 -2.00L0.0 -2.00L1.4 -2.00L2.9 -2.00L4.3 -2.00L5.8 -1.99L7.2 -1.98L8.7 -1.94L10.1 -1.87L11.6 -1.70L13.0 0.00L13.0 0.00L11.6 1.70L10.1 1.87L8.7 1.94L7.2 1.98L5.8 1.99L4.3 2.00L2.9 2.00L1.4 2.00L0.0 2.00L-1.4 2.00L-2.9 2.00L-4.3 2.00L-5.8 1.99L-7.2 1.98L-8.7 1.94L-10.1 1.87L-11.6 1.70L-13.0 0.00Z" transform="translate(606.3 805.5)" fill="#1a1a1a" opacity="0.046" filter="url(#b2)"/>
<path d="M-12.5 0.00L-11.1 -1.45L-9.7 -1.59L-8.3 -1.65L-6.9 -1.68L-5.6 -1.69L-4.2 -1.70L-2.8 -1.70L-1.4 -1.70L0.0 -1.70L1.4 -1.70L2.8 -1.70L4.2 -1.70L5.6 -1.69L6.9 -1.68L8.3 -1.65L9.7 -1.59L11.1 -1.45L12.5 0.00L12.5 0.00L11.1 1.45L9.7 1.59L8.3 1.65L6.9 1.68L5.6 1.69L4.2 1.70L2.8 1.70L1.4 1.70L0.0 1.70L-1.4 1.70L-2.8 1.70L-4.2 1.70L-5.6 1.69L-6.9 1.68L-8.3 1.65L-9.7 1.59L-11.1 1.45L-12.5 0.00Z" transform="translate(289.2 791.8)" fill="#1a1a1a" opacity="0.035" filter="url(#b2)"/>
<path d="M-13.0 0.00L-11.6 -1.70L-10.1 -1.87L-8.7 -1.94L-7.2 -1.98L-5.8 -1.99L-4.3 -2.00L-2.9 -2.00L-1.4 -2.00L0.0 -2.00L1.4 -2.00L2.9 -2.00L4.3 -2.00L5.8 -1.99L7.2 -1.98L8.7 -1.94L10.1 -1.87L11.6 -1.70L13.0 0.00L13.0 0.00L11.6 1.70L10.1 1.87L8.7 1.94L7.2 1.98L5.8 1.99L4.3 2.00L2.9 2.00L1.4 2.00L0.0 2.00L-1.4 2.00L-2.9 2.00L-4.3 2.00L-5.8 1.99L-7.2 1.98L-8.7 1.94L-10.1 1.87L-11.6 1.70L-13.0 0.00Z" transform="translate(289.2 805.5)" fill="#1a1a1a" opacity="0.04025" filter="url(#b2)"/>
<path d="M-12.5 0.00L-11.1 -1.45L-9.7 -1.59L-8.3 -1.65L-6.9 -1.68L-5.6 -1.69L-4.2 -1.70L-2.8 -1.70L-1.4 -1.70L0.0 -1.70L1.4 -1.70L2.8 -1.70L4.2 -1.70L5.6 -1.69L6.9 -1.68L8.3 -1.65L9.7 -1.59L11.1 -1.45L12.5 0.00L12.5 0.00L11.1 1.45L9.7 1.59L8.3 1.65L6.9 1.68L5.6 1.69L4.2 1.70L2.8 1.70L1.4 1.70L0.0 1.70L-1.4 1.70L-2.8 1.70L-4.2 1.70L-5.6 1.69L-6.9 1.68L-8.3 1.65L-9.7 1.59L-11.1 1.45L-12.5 0.00Z" transform="translate(328.7 791.8)" fill="#1a1a1a" opacity="0.03" filter="url(#b2)"/>
<path d="M-13.0 0.00L-11.6 -1.70L-10.1 -1.87L-8.7 -1.94L-7.2 -1.98L-5.8 -1.99L-4.3 -2.00L-2.9 -2.00L-1.4 -2.00L0.0 -2.00L1.4 -2.00L2.9 -2.00L4.3 -2.00L5.8 -1.99L7.2 -1.98L8.7 -1.94L10.1 -1.87L11.6 -1.70L13.0 0.00L13.0 0.00L11.6 1.70L10.1 1.87L8.7 1.94L7.2 1.98L5.8 1.99L4.3 2.00L2.9 2.00L1.4 2.00L0.0 2.00L-1.4 2.00L-2.9 2.00L-4.3 2.00L-5.8 1.99L-7.2 1.98L-8.7 1.94L-10.1 1.87L-11.6 1.70L-13.0 0.00Z" transform="translate(328.7 805.5)" fill="#1a1a1a" opacity="0.034499999999999996" filter="url(#b2)"/>
<path d="M-12.5 0.00L-11.1 -1.45L-9.7 -1.59L-8.3 -1.65L-6.9 -1.68L-5.6 -1.69L-4.2 -1.70L-2.8 -1.70L-1.4 -1.70L0.0 -1.70L1.4 -1.70L2.8 -1.70L4.2 -1.70L5.6 -1.69L6.9 -1.68L8.3 -1.65L9.7 -1.59L11.1 -1.45L12.5 0.00L12.5 0.00L11.1 1.45L9.7 1.59L8.3 1.65L6.9 1.68L5.6 1.69L4.2 1.70L2.8 1.70L1.4 1.70L0.0 1.70L-1.4 1.70L-2.8 1.70L-4.2 1.70L-5.6 1.69L-6.9 1.68L-8.3 1.65L-9.7 1.59L-11.1 1.45L-12.5 0.00Z" transform="translate(369.0 791.8)" fill="#1a1a1a" opacity="0.03" filter="url(#b2)"/>
<path d="M-13.0 0.00L-11.6 -1.70L-10.1 -1.87L-8.7 -1.94L-7.2 -1.98L-5.8 -1.99L-4.3 -2.00L-2.9 -2.00L-1.4 -2.00L0.0 -2.00L1.4 -2.00L2.9 -2.00L4.3 -2.00L5.8 -1.99L7.2 -1.98L8.7 -1.94L10.1 -1.87L11.6 -1.70L13.0 0.00L13.0 0.00L11.6 1.70L10.1 1.87L8.7 1.94L7.2 1.98L5.8 1.99L4.3 2.00L2.9 2.00L1.4 2.00L0.0 2.00L-1.4 2.00L-2.9 2.00L-4.3 2.00L-5.8 1.99L-7.2 1.98L-8.7 1.94L-10.1 1.87L-11.6 1.70L-13.0 0.00Z" transform="translate(369.0 805.5)" fill="#1a1a1a" opacity="0.034499999999999996" filter="url(#b2)"/>
<path d="M-12.5 0.00L-11.1 -1.45L-9.7 -1.59L-8.3 -1.65L-6.9 -1.68L-5.6 -1.69L-4.2 -1.70L-2.8 -1.70L-1.4 -1.70L0.0 -1.70L1.4 -1.70L2.8 -1.70L4.2 -1.70L5.6 -1.69L6.9 -1.68L8.3 -1.65L9.7 -1.59L11.1 -1.45L12.5 0.00L12.5 0.00L11.1 1.45L9.7 1.59L8.3 1.65L6.9 1.68L5.6 1.69L4.2 1.70L2.8 1.70L1.4 1.70L0.0 1.70L-1.4 1.70L-2.8 1.70L-4.2 1.70L-5.6 1.69L-6.9 1.68L-8.3 1.65L-9.7 1.59L-11.1 1.45L-12.5 0.00Z" transform="translate(131.8 791.8)" fill="#1a1a1a" opacity="0.015" filter="url(#b2)"/>
<path d="M-13.0 0.00L-11.6 -1.70L-10.1 -1.87L-8.7 -1.94L-7.2 -1.98L-5.8 -1.99L-4.3 -2.00L-2.9 -2.00L-1.4 -2.00L0.0 -2.00L1.4 -2.00L2.9 -2.00L4.3 -2.00L5.8 -1.99L7.2 -1.98L8.7 -1.94L10.1 -1.87L11.6 -1.70L13.0 0.00L13.0 0.00L11.6 1.70L10.1 1.87L8.7 1.94L7.2 1.98L5.8 1.99L4.3 2.00L2.9 2.00L1.4 2.00L0.0 2.00L-1.4 2.00L-2.9 2.00L-4.3 2.00L-5.8 1.99L-7.2 1.98L-8.7 1.94L-10.1 1.87L-11.6 1.70L-13.0 0.00Z" transform="translate(131.8 805.5)" fill="#1a1a1a" opacity="0.017249999999999998" filter="url(#b2)"/>
<clipPath id="c847"><rect x="67" y="847.3" width="611.8" height="79.5"/></clipPath>
<rect x="67" y="847.3" width="611.8" height="79.5" fill="#9d9d9d"/>
<rect x="67" y="847.3" width="44" height="79.5" fill="url(#lane)" opacity="0.1"/>
<ellipse cx="87.8" cy="859.0" rx="13.5" ry="9.5" fill="#fff" opacity="0.121" filter="url(#b3)"/>
<ellipse cx="87.8" cy="906.5" rx="13.5" ry="9.5" fill="#fff" opacity="0.121" filter="url(#b3)"/>
<path d="M-14.8 -0.90L-13.1 -3.26L-11.5 -3.35L-9.8 -3.32L-8.2 -3.25L-6.6 -3.17L-4.9 -3.10L-3.3 -3.04L-1.6 -3.01L0.0 -3.00L1.6 -3.01L3.3 -3.04L4.9 -3.10L6.6 -3.17L8.2 -3.25L9.8 -3.32L11.5 -3.35L13.1 -3.26L14.8 -0.90L14.8 -0.90L13.1 1.84L11.5 2.26L9.8 2.52L8.2 2.69L6.6 2.81L4.9 2.90L3.3 2.96L1.6 2.99L0.0 3.00L-1.6 2.99L-3.3 2.96L-4.9 2.90L-6.6 2.81L-8.2 2.69L-9.8 2.52L-11.5 2.26L-13.1 1.84L-14.8 -0.90Z" transform="translate(125.6 889.7) rotate(5)" fill="#040404" opacity="0.8" filter="url(#b15)"/>
<path d="M-15.2 -1.10L-13.6 -4.53L-11.9 -4.69L-10.2 -4.67L-8.5 -4.59L-6.8 -4.50L-5.1 -4.42L-3.4 -4.35L-1.7 -4.31L0.0 -4.30L1.7 -4.31L3.4 -4.35L5.1 -4.42L6.8 -4.50L8.5 -4.59L10.2 -4.67L11.9 -4.69L13.6 -4.53L15.2 -1.10L15.2 -1.10L13.6 2.79L11.9 3.36L10.2 3.69L8.5 3.91L6.8 4.07L5.1 4.17L3.4 4.25L1.7 4.29L0.0 4.30L-1.7 4.29L-3.4 4.25L-5.1 4.17L-6.8 4.07L-8.5 3.91L-10.2 3.69L-11.9 3.36L-13.6 2.79L-15.2 -1.10Z" transform="translate(125.6 902.7) rotate(5)" fill="#040404" opacity="1.0" filter="url(#b1)"/>
<path d="M-14.8 -0.90L-13.1 -3.26L-11.5 -3.35L-9.8 -3.32L-8.2 -3.25L-6.6 -3.17L-4.9 -3.10L-3.3 -3.04L-1.6 -3.01L0.0 -3.00L1.6 -3.01L3.3 -3.04L4.9 -3.10L6.6 -3.17L8.2 -3.25L9.8 -3.32L11.5 -3.35L13.1 -3.26L14.8 -0.90L14.8 -0.90L13.1 1.84L11.5 2.26L9.8 2.52L8.2 2.69L6.6 2.81L4.9 2.90L3.3 2.96L1.6 2.99L0.0 3.00L-1.6 2.99L-3.3 2.96L-4.9 2.90L-6.6 2.81L-8.2 2.69L-9.8 2.52L-11.5 2.26L-13.1 1.84L-14.8 -0.90Z" transform="translate(166.8 893.4) rotate(2)" fill="#040404" opacity="0.8" filter="url(#b15)"/>
<path d="M-15.2 -1.10L-13.6 -4.53L-11.9 -4.69L-10.2 -4.67L-8.5 -4.59L-6.8 -4.50L-5.1 -4.42L-3.4 -4.35L-1.7 -4.31L0.0 -4.30L1.7 -4.31L3.4 -4.35L5.1 -4.42L6.8 -4.50L8.5 -4.59L10.2 -4.67L11.9 -4.69L13.6 -4.53L15.2 -1.10L15.2 -1.10L13.6 2.79L11.9 3.36L10.2 3.69L8.5 3.91L6.8 4.07L5.1 4.17L3.4 4.25L1.7 4.29L0.0 4.30L-1.7 4.29L-3.4 4.25L-5.1 4.17L-6.8 4.07L-8.5 3.91L-10.2 3.69L-11.9 3.36L-13.6 2.79L-15.2 -1.10Z" transform="translate(166.8 906.6) rotate(2)" fill="#040404" opacity="1.0" filter="url(#b1)"/>
<path d="M-14.8 -0.90L-13.1 -3.26L-11.5 -3.35L-9.8 -3.32L-8.2 -3.25L-6.6 -3.17L-4.9 -3.10L-3.3 -3.04L-1.6 -3.01L0.0 -3.00L1.6 -3.01L3.3 -3.04L4.9 -3.10L6.6 -3.17L8.2 -3.25L9.8 -3.32L11.5 -3.35L13.1 -3.26L14.8 -0.90L14.8 -0.90L13.1 1.84L11.5 2.26L9.8 2.52L8.2 2.69L6.6 2.81L4.9 2.90L3.3 2.96L1.6 2.99L0.0 3.00L-1.6 2.99L-3.3 2.96L-4.9 2.90L-6.6 2.81L-8.2 2.69L-9.8 2.52L-11.5 2.26L-13.1 1.84L-14.8 -0.90Z" transform="translate(206.7 895.1)" fill="#040404" opacity="0.8" filter="url(#b15)"/>
<path d="M-15.2 -1.10L-13.6 -4.53L-11.9 -4.69L-10.2 -4.67L-8.5 -4.59L-6.8 -4.50L-5.1 -4.42L-3.4 -4.35L-1.7 -4.31L0.0 -4.30L1.7 -4.31L3.4 -4.35L5.1 -4.42L6.8 -4.50L8.5 -4.59L10.2 -4.67L11.9 -4.69L13.6 -4.53L15.2 -1.10L15.2 -1.10L13.6 2.79L11.9 3.36L10.2 3.69L8.5 3.91L6.8 4.07L5.1 4.17L3.4 4.25L1.7 4.29L0.0 4.30L-1.7 4.29L-3.4 4.25L-5.1 4.17L-6.8 4.07L-8.5 3.91L-10.2 3.69L-11.9 3.36L-13.6 2.79L-15.2 -1.10Z" transform="translate(206.7 908.1)" fill="#040404" opacity="1.0" filter="url(#b1)"/>
<path d="M-14.8 -0.90L-13.1 -3.26L-11.5 -3.35L-9.8 -3.32L-8.2 -3.25L-6.6 -3.17L-4.9 -3.10L-3.3 -3.04L-1.6 -3.01L0.0 -3.00L1.6 -3.01L3.3 -3.04L4.9 -3.10L6.6 -3.17L8.2 -3.25L9.8 -3.32L11.5 -3.35L13.1 -3.26L14.8 -0.90L14.8 -0.90L13.1 1.84L11.5 2.26L9.8 2.52L8.2 2.69L6.6 2.81L4.9 2.90L3.3 2.96L1.6 2.99L0.0 3.00L-1.6 2.99L-3.3 2.96L-4.9 2.90L-6.6 2.81L-8.2 2.69L-9.8 2.52L-11.5 2.26L-13.1 1.84L-14.8 -0.90Z" transform="translate(246.9 896.2)" fill="#040404" opacity="0.8" filter="url(#b15)"/>
<path d="M-15.2 -1.10L-13.6 -4.53L-11.9 -4.69L-10.2 -4.67L-8.5 -4.59L-6.8 -4.50L-5.1 -4.42L-3.4 -4.35L-1.7 -4.31L0.0 -4.30L1.7 -4.31L3.4 -4.35L5.1 -4.42L6.8 -4.50L8.5 -4.59L10.2 -4.67L11.9 -4.69L13.6 -4.53L15.2 -1.10L15.2 -1.10L13.6 2.79L11.9 3.36L10.2 3.69L8.5 3.91L6.8 4.07L5.1 4.17L3.4 4.25L1.7 4.29L0.0 4.30L-1.7 4.29L-3.4 4.25L-5.1 4.17L-6.8 4.07L-8.5 3.91L-10.2 3.69L-11.9 3.36L-13.6 2.79L-15.2 -1.10Z" transform="translate(246.9 909.2)" fill="#040404" opacity="1.0" filter="url(#b1)"/>
<path d="M-14.8 -0.90L-13.1 -3.26L-11.5 -3.35L-9.8 -3.32L-8.2 -3.25L-6.6 -3.17L-4.9 -3.10L-3.3 -3.04L-1.6 -3.01L0.0 -3.00L1.6 -3.01L3.3 -3.04L4.9 -3.10L6.6 -3.17L8.2 -3.25L9.8 -3.32L11.5 -3.35L13.1 -3.26L14.8 -0.90L14.8 -0.90L13.1 1.84L11.5 2.26L9.8 2.52L8.2 2.69L6.6 2.81L4.9 2.90L3.3 2.96L1.6 2.99L0.0 3.00L-1.6 2.99L-3.3 2.96L-4.9 2.90L-6.6 2.81L-8.2 2.69L-9.8 2.52L-11.5 2.26L-13.1 1.84L-14.8 -0.90Z" transform="translate(286.6 897.3)" fill="#040404" opacity="0.8" filter="url(#b15)"/>
<path d="M-15.2 -1.10L-13.6 -4.53L-11.9 -4.69L-10.2 -4.67L-8.5 -4.59L-6.8 -4.50L-5.1 -4.42L-3.4 -4.35L-1.7 -4.31L0.0 -4.30L1.7 -4.31L3.4 -4.35L5.1 -4.42L6.8 -4.50L8.5 -4.59L10.2 -4.67L11.9 -4.69L13.6 -4.53L15.2 -1.10L15.2 -1.10L13.6 2.79L11.9 3.36L10.2 3.69L8.5 3.91L6.8 4.07L5.1 4.17L3.4 4.25L1.7 4.29L0.0 4.30L-1.7 4.29L-3.4 4.25L-5.1 4.17L-6.8 4.07L-8.5 3.91L-10.2 3.69L-11.9 3.36L-13.6 2.79L-15.2 -1.10Z" transform="translate(286.6 910.7)" fill="#040404" opacity="1.0" filter="url(#b1)"/>
<path d="M-14.8 -0.90L-13.1 -3.26L-11.5 -3.35L-9.8 -3.32L-8.2 -3.25L-6.6 -3.17L-4.9 -3.10L-3.3 -3.04L-1.6 -3.01L0.0 -3.00L1.6 -3.01L3.3 -3.04L4.9 -3.10L6.6 -3.17L8.2 -3.25L9.8 -3.32L11.5 -3.35L13.1 -3.26L14.8 -0.90L14.8 -0.90L13.1 1.84L11.5 2.26L9.8 2.52L8.2 2.69L6.6 2.81L4.9 2.90L3.3 2.96L1.6 2.99L0.0 3.00L-1.6 2.99L-3.3 2.96L-4.9 2.90L-6.6 2.81L-8.2 2.69L-9.8 2.52L-11.5 2.26L-13.1 1.84L-14.8 -0.90Z" transform="translate(326.7 897.3)" fill="#040404" opacity="0.8" filter="url(#b15)"/>
<path d="M-15.2 -1.10L-13.6 -4.53L-11.9 -4.69L-10.2 -4.67L-8.5 -4.59L-6.8 -4.50L-5.1 -4.42L-3.4 -4.35L-1.7 -4.31L0.0 -4.30L1.7 -4.31L3.4 -4.35L5.1 -4.42L6.8 -4.50L8.5 -4.59L10.2 -4.67L11.9 -4.69L13.6 -4.53L15.2 -1.10L15.2 -1.10L13.6 2.79L11.9 3.36L10.2 3.69L8.5 3.91L6.8 4.07L5.1 4.17L3.4 4.25L1.7 4.29L0.0 4.30L-1.7 4.29L-3.4 4.25L-5.1 4.17L-6.8 4.07L-8.5 3.91L-10.2 3.69L-11.9 3.36L-13.6 2.79L-15.2 -1.10Z" transform="translate(326.7 910.7)" fill="#040404" opacity="1.0" filter="url(#b1)"/>
<path d="M-14.8 -0.90L-13.1 -3.26L-11.5 -3.35L-9.8 -3.32L-8.2 -3.25L-6.6 -3.17L-4.9 -3.10L-3.3 -3.04L-1.6 -3.01L0.0 -3.00L1.6 -3.01L3.3 -3.04L4.9 -3.10L6.6 -3.17L8.2 -3.25L9.8 -3.32L11.5 -3.35L13.1 -3.26L14.8 -0.90L14.8 -0.90L13.1 1.84L11.5 2.26L9.8 2.52L8.2 2.69L6.6 2.81L4.9 2.90L3.3 2.96L1.6 2.99L0.0 3.00L-1.6 2.99L-3.3 2.96L-4.9 2.90L-6.6 2.81L-8.2 2.69L-9.8 2.52L-11.5 2.26L-13.1 1.84L-14.8 -0.90Z" transform="translate(366.8 896.6)" fill="#040404" opacity="0.8" filter="url(#b15)"/>
<path d="M-15.2 -1.10L-13.6 -4.53L-11.9 -4.69L-10.2 -4.67L-8.5 -4.59L-6.8 -4.50L-5.1 -4.42L-3.4 -4.35L-1.7 -4.31L0.0 -4.30L1.7 -4.31L3.4 -4.35L5.1 -4.42L6.8 -4.50L8.5 -4.59L10.2 -4.67L11.9 -4.69L13.6 -4.53L15.2 -1.10L15.2 -1.10L13.6 2.79L11.9 3.36L10.2 3.69L8.5 3.91L6.8 4.07L5.1 4.17L3.4 4.25L1.7 4.29L0.0 4.30L-1.7 4.29L-3.4 4.25L-5.1 4.17L-6.8 4.07L-8.5 3.91L-10.2 3.69L-11.9 3.36L-13.6 2.79L-15.2 -1.10Z" transform="translate(366.8 910.3)" fill="#040404" opacity="1.0" filter="url(#b1)"/>
<path d="M-14.8 -0.90L-13.1 -3.26L-11.5 -3.35L-9.8 -3.32L-8.2 -3.25L-6.6 -3.17L-4.9 -3.10L-3.3 -3.04L-1.6 -3.01L0.0 -3.00L1.6 -3.01L3.3 -3.04L4.9 -3.10L6.6 -3.17L8.2 -3.25L9.8 -3.32L11.5 -3.35L13.1 -3.26L14.8 -0.90L14.8 -0.90L13.1 1.84L11.5 2.26L9.8 2.52L8.2 2.69L6.6 2.81L4.9 2.90L3.3 2.96L1.6 2.99L0.0 3.00L-1.6 2.99L-3.3 2.96L-4.9 2.90L-6.6 2.81L-8.2 2.69L-9.8 2.52L-11.5 2.26L-13.1 1.84L-14.8 -0.90Z" transform="translate(406.9 897.3)" fill="#040404" opacity="0.8" filter="url(#b15)"/>
<path d="M-15.2 -1.10L-13.6 -4.53L-11.9 -4.69L-10.2 -4.67L-8.5 -4.59L-6.8 -4.50L-5.1 -4.42L-3.4 -4.35L-1.7 -4.31L0.0 -4.30L1.7 -4.31L3.4 -4.35L5.1 -4.42L6.8 -4.50L8.5 -4.59L10.2 -4.67L11.9 -4.69L13.6 -4.53L15.2 -1.10L15.2 -1.10L13.6 2.79L11.9 3.36L10.2 3.69L8.5 3.91L6.8 4.07L5.1 4.17L3.4 4.25L1.7 4.29L0.0 4.30L-1.7 4.29L-3.4 4.25L-5.1 4.17L-6.8 4.07L-8.5 3.91L-10.2 3.69L-11.9 3.36L-13.6 2.79L-15.2 -1.10Z" transform="translate(406.9 910.7)" fill="#040404" opacity="1.0" filter="url(#b1)"/>
<path d="M-14.8 -0.90L-13.1 -3.26L-11.5 -3.35L-9.8 -3.32L-8.2 -3.25L-6.6 -3.17L-4.9 -3.10L-3.3 -3.04L-1.6 -3.01L0.0 -3.00L1.6 -3.01L3.3 -3.04L4.9 -3.10L6.6 -3.17L8.2 -3.25L9.8 -3.32L11.5 -3.35L13.1 -3.26L14.8 -0.90L14.8 -0.90L13.1 1.84L11.5 2.26L9.8 2.52L8.2 2.69L6.6 2.81L4.9 2.90L3.3 2.96L1.6 2.99L0.0 3.00L-1.6 2.99L-3.3 2.96L-4.9 2.90L-6.6 2.81L-8.2 2.69L-9.8 2.52L-11.5 2.26L-13.1 1.84L-14.8 -0.90Z" transform="translate(447.0 897.3)" fill="#040404" opacity="0.8" filter="url(#b15)"/>
<path d="M-15.2 -1.10L-13.6 -4.53L-11.9 -4.69L-10.2 -4.67L-8.5 -4.59L-6.8 -4.50L-5.1 -4.42L-3.4 -4.35L-1.7 -4.31L0.0 -4.30L1.7 -4.31L3.4 -4.35L5.1 -4.42L6.8 -4.50L8.5 -4.59L10.2 -4.67L11.9 -4.69L13.6 -4.53L15.2 -1.10L15.2 -1.10L13.6 2.79L11.9 3.36L10.2 3.69L8.5 3.91L6.8 4.07L5.1 4.17L3.4 4.25L1.7 4.29L0.0 4.30L-1.7 4.29L-3.4 4.25L-5.1 4.17L-6.8 4.07L-8.5 3.91L-10.2 3.69L-11.9 3.36L-13.6 2.79L-15.2 -1.10Z" transform="translate(447.0 910.7)" fill="#040404" opacity="1.0" filter="url(#b1)"/>
<path d="M-14.8 -0.90L-13.1 -3.26L-11.5 -3.35L-9.8 -3.32L-8.2 -3.25L-6.6 -3.17L-4.9 -3.10L-3.3 -3.04L-1.6 -3.01L0.0 -3.00L1.6 -3.01L3.3 -3.04L4.9 -3.10L6.6 -3.17L8.2 -3.25L9.8 -3.32L11.5 -3.35L13.1 -3.26L14.8 -0.90L14.8 -0.90L13.1 1.84L11.5 2.26L9.8 2.52L8.2 2.69L6.6 2.81L4.9 2.90L3.3 2.96L1.6 2.99L0.0 3.00L-1.6 2.99L-3.3 2.96L-4.9 2.90L-6.6 2.81L-8.2 2.69L-9.8 2.52L-11.5 2.26L-13.1 1.84L-14.8 -0.90Z" transform="translate(487.1 897.3)" fill="#040404" opacity="0.8" filter="url(#b15)"/>
<path d="M-15.2 -1.10L-13.6 -4.53L-11.9 -4.69L-10.2 -4.67L-8.5 -4.59L-6.8 -4.50L-5.1 -4.42L-3.4 -4.35L-1.7 -4.31L0.0 -4.30L1.7 -4.31L3.4 -4.35L5.1 -4.42L6.8 -4.50L8.5 -4.59L10.2 -4.67L11.9 -4.69L13.6 -4.53L15.2 -1.10L15.2 -1.10L13.6 2.79L11.9 3.36L10.2 3.69L8.5 3.91L6.8 4.07L5.1 4.17L3.4 4.25L1.7 4.29L0.0 4.30L-1.7 4.29L-3.4 4.25L-5.1 4.17L-6.8 4.07L-8.5 3.91L-10.2 3.69L-11.9 3.36L-13.6 2.79L-15.2 -1.10Z" transform="translate(487.1 910.7)" fill="#040404" opacity="1.0" filter="url(#b1)"/>
<path d="M-14.8 -0.90L-13.1 -3.26L-11.5 -3.35L-9.8 -3.32L-8.2 -3.25L-6.6 -3.17L-4.9 -3.10L-3.3 -3.04L-1.6 -3.01L0.0 -3.00L1.6 -3.01L3.3 -3.04L4.9 -3.10L6.6 -3.17L8.2 -3.25L9.8 -3.32L11.5 -3.35L13.1 -3.26L14.8 -0.90L14.8 -0.90L13.1 1.84L11.5 2.26L9.8 2.52L8.2 2.69L6.6 2.81L4.9 2.90L3.3 2.96L1.6 2.99L0.0 3.00L-1.6 2.99L-3.3 2.96L-4.9 2.90L-6.6 2.81L-8.2 2.69L-9.8 2.52L-11.5 2.26L-13.1 1.84L-14.8 -0.90Z" transform="translate(527.3 897.0)" fill="#040404" opacity="0.8" filter="url(#b15)"/>
<path d="M-15.2 -1.10L-13.6 -4.53L-11.9 -4.69L-10.2 -4.67L-8.5 -4.59L-6.8 -4.50L-5.1 -4.42L-3.4 -4.35L-1.7 -4.31L0.0 -4.30L1.7 -4.31L3.4 -4.35L5.1 -4.42L6.8 -4.50L8.5 -4.59L10.2 -4.67L11.9 -4.69L13.6 -4.53L15.2 -1.10L15.2 -1.10L13.6 2.79L11.9 3.36L10.2 3.69L8.5 3.91L6.8 4.07L5.1 4.17L3.4 4.25L1.7 4.29L0.0 4.30L-1.7 4.29L-3.4 4.25L-5.1 4.17L-6.8 4.07L-8.5 3.91L-10.2 3.69L-11.9 3.36L-13.6 2.79L-15.2 -1.10Z" transform="translate(527.3 910.3)" fill="#040404" opacity="1.0" filter="url(#b1)"/>
<path d="M-14.8 -0.90L-13.1 -3.26L-11.5 -3.35L-9.8 -3.32L-8.2 -3.25L-6.6 -3.17L-4.9 -3.10L-3.3 -3.04L-1.6 -3.01L0.0 -3.00L1.6 -3.01L3.3 -3.04L4.9 -3.10L6.6 -3.17L8.2 -3.25L9.8 -3.32L11.5 -3.35L13.1 -3.26L14.8 -0.90L14.8 -0.90L13.1 1.84L11.5 2.26L9.8 2.52L8.2 2.69L6.6 2.81L4.9 2.90L3.3 2.96L1.6 2.99L0.0 3.00L-1.6 2.99L-3.3 2.96L-4.9 2.90L-6.6 2.81L-8.2 2.69L-9.8 2.52L-11.5 2.26L-13.1 1.84L-14.8 -0.90Z" transform="translate(566.3 896.1) rotate(-1)" fill="#040404" opacity="0.8" filter="url(#b15)"/>
<path d="M-15.2 -1.10L-13.6 -4.53L-11.9 -4.69L-10.2 -4.67L-8.5 -4.59L-6.8 -4.50L-5.1 -4.42L-3.4 -4.35L-1.7 -4.31L0.0 -4.30L1.7 -4.31L3.4 -4.35L5.1 -4.42L6.8 -4.50L8.5 -4.59L10.2 -4.67L11.9 -4.69L13.6 -4.53L15.2 -1.10L15.2 -1.10L13.6 2.79L11.9 3.36L10.2 3.69L8.5 3.91L6.8 4.07L5.1 4.17L3.4 4.25L1.7 4.29L0.0 4.30L-1.7 4.29L-3.4 4.25L-5.1 4.17L-6.8 4.07L-8.5 3.91L-10.2 3.69L-11.9 3.36L-13.6 2.79L-15.2 -1.10Z" transform="translate(566.3 909.5) rotate(-1)" fill="#040404" opacity="1.0" filter="url(#b1)"/>
<path d="M-14.8 -0.90L-13.1 -3.26L-11.5 -3.35L-9.8 -3.32L-8.2 -3.25L-6.6 -3.17L-4.9 -3.10L-3.3 -3.04L-1.6 -3.01L0.0 -3.00L1.6 -3.01L3.3 -3.04L4.9 -3.10L6.6 -3.17L8.2 -3.25L9.8 -3.32L11.5 -3.35L13.1 -3.26L14.8 -0.90L14.8 -0.90L13.1 1.84L11.5 2.26L9.8 2.52L8.2 2.69L6.6 2.81L4.9 2.90L3.3 2.96L1.6 2.99L0.0 3.00L-1.6 2.99L-3.3 2.96L-4.9 2.90L-6.6 2.81L-8.2 2.69L-9.8 2.52L-11.5 2.26L-13.1 1.84L-14.8 -0.90Z" transform="translate(606.4 894.0) rotate(-4)" fill="#040404" opacity="0.8" filter="url(#b15)"/>
<path d="M-15.2 -1.10L-13.6 -4.53L-11.9 -4.69L-10.2 -4.67L-8.5 -4.59L-6.8 -4.50L-5.1 -4.42L-3.4 -4.35L-1.7 -4.31L0.0 -4.30L1.7 -4.31L3.4 -4.35L5.1 -4.42L6.8 -4.50L8.5 -4.59L10.2 -4.67L11.9 -4.69L13.6 -4.53L15.2 -1.10L15.2 -1.10L13.6 2.79L11.9 3.36L10.2 3.69L8.5 3.91L6.8 4.07L5.1 4.17L3.4 4.25L1.7 4.29L0.0 4.30L-1.7 4.29L-3.4 4.25L-5.1 4.17L-6.8 4.07L-8.5 3.91L-10.2 3.69L-11.9 3.36L-13.6 2.79L-15.2 -1.10Z" transform="translate(606.4 906.9) rotate(-4)" fill="#040404" opacity="1.0" filter="url(#b1)"/>
<path d="M-15.0 -0.00L-13.3 -2.67L-11.7 -3.03L-10.0 -3.31L-8.3 -3.58L-6.7 -3.90L-5.0 -4.26L-3.3 -4.69L-1.7 -5.17L0.0 -5.72L1.7 -6.34L3.3 -7.02L5.0 -7.76L6.7 -8.57L8.3 -9.42L10.0 -10.31L11.7 -11.20L13.3 -12.00L15.0 -10.50L15.0 -10.50L13.3 -6.73L11.7 -5.40L10.0 -4.28L8.3 -3.29L6.7 -2.39L5.0 -1.57L3.3 -0.82L1.7 -0.14L0.0 0.48L-1.7 1.03L-3.3 1.51L-5.0 1.93L-6.7 2.28L-8.3 2.55L-10.0 2.72L-11.7 2.77L-13.3 2.60L-15.0 0.00Z" transform="translate(648.0 895.8)" fill="#040404" opacity="0.78" filter="url(#b15)"/>
<path d="M-15.5 -0.00L-13.8 -4.02L-12.1 -4.50L-10.3 -4.81L-8.6 -5.07L-6.9 -5.34L-5.2 -5.64L-3.4 -5.98L-1.7 -6.38L0.0 -6.83L1.7 -7.32L3.4 -7.87L5.2 -8.47L6.9 -9.12L8.6 -9.79L10.3 -10.47L12.1 -11.11L13.8 -11.58L15.5 -8.50L15.5 -8.50L13.8 -3.58L12.1 -2.32L10.3 -1.33L8.6 -0.49L6.9 0.25L5.2 0.92L3.4 1.53L1.7 2.08L0.0 2.58L-1.7 3.02L-3.4 3.41L-5.2 3.75L-6.9 4.03L-8.6 4.23L-10.3 4.33L-12.1 4.29L-13.8 3.97L-15.5 0.00Z" transform="translate(648.0 908.6)" fill="#040404" opacity="1.0" filter="url(#b1)"/>
<text x="-2.5" y="656" font-size="29.5" text-anchor="start" >kDa</text>
<text x="27.5" y="685" font-size="29" text-anchor="start" >49</text>
<text x="27.5" y="733.5" font-size="29" text-anchor="start" >38</text>
<text x="27.5" y="776.8" font-size="29" text-anchor="start" >49</text>
<text x="27.5" y="825.2" font-size="29" text-anchor="start" >38</text>
<text x="27.5" y="873.7" font-size="29" text-anchor="start" >49</text>
<text x="27.5" y="922.2" font-size="29" text-anchor="start" >38</text>
<text x="88.5" y="643.6" font-size="29" text-anchor="middle" >M</text>
<text x="166.8" y="643.6" font-size="29" text-anchor="middle" >5</text>
<text x="202.5" y="643.6" font-size="29" text-anchor="middle" >20</text>
<text x="246.1" y="643.6" font-size="29" text-anchor="middle" >60</text>
<text x="286.3" y="643.6" font-size="29" text-anchor="middle" >5</text>
<text x="321.9" y="643.6" font-size="29" text-anchor="middle" >20</text>
<text x="365.3" y="643.6" font-size="29" text-anchor="middle" >60</text>
<text x="402.5" y="643.6" font-size="29" text-anchor="middle" >5</text>
<text x="442.2" y="643.6" font-size="29" text-anchor="middle" >20</text>
<text x="483.2" y="643.6" font-size="29" text-anchor="middle" >60</text>
<text x="517.7" y="643.6" font-size="29" text-anchor="middle" >5</text>
<text x="557.5" y="643.6" font-size="29" text-anchor="middle" >20</text>
<text x="599.6" y="643.6" font-size="29" text-anchor="middle" >60</text>
<text x="645.7" y="639.6" font-size="29" text-anchor="middle" >5</text>
<text x="377.5" y="586.8" font-size="29" text-anchor="middle" >S1PR1</text>
<path d="M119.5 605H622.5" stroke="#000" stroke-width="5.4"/>
<text transform="translate(622.2 581) rotate(-45)" font-size="30">Mock</text>
<text transform="translate(647.1 603.7) rotate(-45)" font-size="30">S1P</text>
<path d="M275.6 946.2H373.2" stroke="#000" stroke-width="5"/>
<path d="M514.6 946.2H612.9" stroke="#000" stroke-width="5"/>
<text x="327.6" y="976" font-size="29" text-anchor="middle" >PTX</text>
<text x="563.2" y="976" font-size="29" text-anchor="middle" >PTX</text>
<path d="M158 999H382.4" stroke="#000" stroke-width="5"/>
<path d="M397.6 999H620.7" stroke="#000" stroke-width="5"/>
<text x="259.8" y="1033" font-size="29" text-anchor="middle" >S1P</text>
<text x="519.2" y="1033" font-size="29" text-anchor="middle" >FTY-P</text>
<text x="762.3" y="644.2" font-size="30" text-anchor="middle" >min</text>
<text x="761.4" y="699.8" font-size="29" text-anchor="middle" >S1PR1</text>
<text x="762.8" y="798" font-size="30" text-anchor="middle" >pERK1/2</text>
<text x="762.5" y="892.3" font-size="30.1" text-anchor="middle" >tot ERK1/2</text>
<clipPath id="c656"><rect x="850.3" y="656.4" width="608.5" height="79.5"/></clipPath>
<rect x="850.3" y="656.4" width="608.5" height="79.5" fill="#9d9d9d"/>
<rect x="850.3" y="656.4" width="40" height="79.5" fill="url(#lane)" opacity="0.1"/>
<ellipse cx="868.0" cy="673.8" rx="13.0" ry="9.0" fill="#fff" opacity="0.165" filter="url(#b3)"/>
<ellipse cx="868.0" cy="724.2" rx="13.0" ry="9.0" fill="#fff" opacity="0.165" filter="url(#b3)"/>
<path d="M-14.2 0.00L-12.7 -2.30L-11.1 -2.53L-9.5 -2.62L-7.9 -2.67L-6.3 -2.69L-4.8 -2.70L-3.2 -2.70L-1.6 -2.70L0.0 -2.70L1.6 -2.70L3.2 -2.70L4.7 -2.70L6.3 -2.69L7.9 -2.67L9.5 -2.62L11.1 -2.53L12.7 -2.30L14.2 0.00L14.2 0.00L12.7 2.30L11.1 2.53L9.5 2.62L7.9 2.67L6.3 2.69L4.7 2.70L3.2 2.70L1.6 2.70L0.0 2.70L-1.6 2.70L-3.2 2.70L-4.8 2.70L-6.3 2.69L-7.9 2.67L-9.5 2.62L-11.1 2.53L-12.7 2.30L-14.2 0.00Z" transform="translate(908.0 686.5) rotate(6)" fill="#040404" opacity="1.0" filter="url(#b1)"/>
<path d="M-14.2 0.00L-12.7 -2.89L-11.1 -3.18L-9.5 -3.31L-7.9 -3.36L-6.3 -3.39L-4.8 -3.40L-3.2 -3.40L-1.6 -3.40L0.0 -3.40L1.6 -3.40L3.2 -3.40L4.7 -3.40L6.3 -3.39L7.9 -3.36L9.5 -3.31L11.1 -3.18L12.7 -2.89L14.2 0.00L14.2 0.00L12.7 2.89L11.1 3.18L9.5 3.31L7.9 3.36L6.3 3.39L4.7 3.40L3.2 3.40L1.6 3.40L0.0 3.40L-1.6 3.40L-3.2 3.40L-4.8 3.40L-6.3 3.39L-7.9 3.36L-9.5 3.31L-11.1 3.18L-12.7 2.89L-14.2 0.00Z" transform="translate(948.5 689.5) rotate(3)" fill="#040404" opacity="1.0" filter="url(#b1)"/>
<path d="M-14.2 0.00L-12.7 -2.89L-11.1 -3.18L-9.5 -3.31L-7.9 -3.36L-6.3 -3.39L-4.8 -3.40L-3.2 -3.40L-1.6 -3.40L0.0 -3.40L1.6 -3.40L3.2 -3.40L4.7 -3.40L6.3 -3.39L7.9 -3.36L9.5 -3.31L11.1 -3.18L12.7 -2.89L14.2 0.00L14.2 0.00L12.7 2.89L11.1 3.18L9.5 3.31L7.9 3.36L6.3 3.39L4.7 3.40L3.2 3.40L1.6 3.40L0.0 3.40L-1.6 3.40L-3.2 3.40L-4.8 3.40L-6.3 3.39L-7.9 3.36L-9.5 3.31L-11.1 3.18L-12.7 2.89L-14.2 0.00Z" transform="translate(988.5 690.8) rotate(1)" fill="#040404" opacity="1.0" filter="url(#b1)"/>
<path d="M-14.2 0.00L-12.7 -2.89L-11.1 -3.18L-9.5 -3.31L-7.9 -3.36L-6.3 -3.39L-4.8 -3.40L-3.2 -3.40L-1.6 -3.40L0.0 -3.40L1.6 -3.40L3.2 -3.40L4.7 -3.40L6.3 -3.39L7.9 -3.36L9.5 -3.31L11.1 -3.18L12.7 -2.89L14.2 0.00L14.2 0.00L12.7 2.89L11.1 3.18L9.5 3.31L7.9 3.36L6.3 3.39L4.7 3.40L3.2 3.40L1.6 3.40L0.0 3.40L-1.6 3.40L-3.2 3.40L-4.8 3.40L-6.3 3.39L-7.9 3.36L-9.5 3.31L-11.1 3.18L-12.7 2.89L-14.2 0.00Z" transform="translate(1027.5 691.6)" fill="#040404" opacity="1.0" filter="url(#b1)"/>
<path d="M-14.2 0.00L-12.7 -2.89L-11.1 -3.18L-9.5 -3.31L-7.9 -3.36L-6.3 -3.39L-4.8 -3.40L-3.2 -3.40L-1.6 -3.40L0.0 -3.40L1.6 -3.40L3.2 -3.40L4.7 -3.40L6.3 -3.39L7.9 -3.36L9.5 -3.31L11.1 -3.18L12.7 -2.89L14.2 0.00L14.2 0.00L12.7 2.89L11.1 3.18L9.5 3.31L7.9 3.36L6.3 3.39L4.7 3.40L3.2 3.40L1.6 3.40L0.0 3.40L-1.6 3.40L-3.2 3.40L-4.8 3.40L-6.3 3.39L-7.9 3.36L-9.5 3.31L-11.1 3.18L-12.7 2.89L-14.2 0.00Z" transform="translate(1067.3 692.1)" fill="#040404" opacity="1.0" filter="url(#b1)"/>
<path d="M-14.2 0.00L-12.7 -2.89L-11.1 -3.18L-9.5 -3.31L-7.9 -3.36L-6.3 -3.39L-4.8 -3.40L-3.2 -3.40L-1.6 -3.40L0.0 -3.40L1.6 -3.40L3.2 -3.40L4.7 -3.40L6.3 -3.39L7.9 -3.36L9.5 -3.31L11.1 -3.18L12.7 -2.89L14.2 0.00L14.2 0.00L12.7 2.89L11.1 3.18L9.5 3.31L7.9 3.36L6.3 3.39L4.7 3.40L3.2 3.40L1.6 3.40L0.0 3.40L-1.6 3.40L-3.2 3.40L-4.8 3.40L-6.3 3.39L-7.9 3.36L-9.5 3.31L-11.1 3.18L-12.7 2.89L-14.2 0.00Z" transform="translate(1106.9 692.5)" fill="#040404" opacity="1.0" filter="url(#b1)"/>
<path d="M-14.2 0.00L-12.7 -2.89L-11.1 -3.18L-9.5 -3.31L-7.9 -3.36L-6.3 -3.39L-4.8 -3.40L-3.2 -3.40L-1.6 -3.40L0.0 -3.40L1.6 -3.40L3.2 -3.40L4.7 -3.40L6.3 -3.39L7.9 -3.36L9.5 -3.31L11.1 -3.18L12.7 -2.89L14.2 0.00L14.2 0.00L12.7 2.89L11.1 3.18L9.5 3.31L7.9 3.36L6.3 3.39L4.7 3.40L3.2 3.40L1.6 3.40L0.0 3.40L-1.6 3.40L-3.2 3.40L-4.8 3.40L-6.3 3.39L-7.9 3.36L-9.5 3.31L-11.1 3.18L-12.7 2.89L-14.2 0.00Z" transform="translate(1146.9 692.5) rotate(-1)" fill="#040404" opacity="1.0" filter="url(#b1)"/>
<path d="M-14.2 0.00L-12.7 -2.89L-11.1 -3.18L-9.5 -3.31L-7.9 -3.36L-6.3 -3.39L-4.8 -3.40L-3.2 -3.40L-1.6 -3.40L0.0 -3.40L1.6 -3.40L3.2 -3.40L4.7 -3.40L6.3 -3.39L7.9 -3.36L9.5 -3.31L11.1 -3.18L12.7 -2.89L14.2 0.00L14.2 0.00L12.7 2.89L11.1 3.18L9.5 3.31L7.9 3.36L6.3 3.39L4.7 3.40L3.2 3.40L1.6 3.40L0.0 3.40L-1.6 3.40L-3.2 3.40L-4.8 3.40L-6.3 3.39L-7.9 3.36L-9.5 3.31L-11.1 3.18L-12.7 2.89L-14.2 0.00Z" transform="translate(1186.5 692.5) rotate(2)" fill="#040404" opacity="1.0" filter="url(#b1)"/>
<path d="M-14.2 0.00L-12.7 -2.89L-11.1 -3.18L-9.5 -3.31L-7.9 -3.36L-6.3 -3.39L-4.8 -3.40L-3.2 -3.40L-1.6 -3.40L0.0 -3.40L1.6 -3.40L3.2 -3.40L4.7 -3.40L6.3 -3.39L7.9 -3.36L9.5 -3.31L11.1 -3.18L12.7 -2.89L14.2 0.00L14.2 0.00L12.7 2.89L11.1 3.18L9.5 3.31L7.9 3.36L6.3 3.39L4.7 3.40L3.2 3.40L1.6 3.40L0.0 3.40L-1.6 3.40L-3.2 3.40L-4.8 3.40L-6.3 3.39L-7.9 3.36L-9.5 3.31L-11.1 3.18L-12.7 2.89L-14.2 0.00Z" transform="translate(1227.2 693.8)" fill="#040404" opacity="1.0" filter="url(#b1)"/>
<path d="M-14.2 0.00L-12.7 -2.89L-11.1 -3.18L-9.5 -3.31L-7.9 -3.36L-6.3 -3.39L-4.8 -3.40L-3.2 -3.40L-1.6 -3.40L0.0 -3.40L1.6 -3.40L3.2 -3.40L4.7 -3.40L6.3 -3.39L7.9 -3.36L9.5 -3.31L11.1 -3.18L12.7 -2.89L14.2 0.00L14.2 0.00L12.7 2.89L11.1 3.18L9.5 3.31L7.9 3.36L6.3 3.39L4.7 3.40L3.2 3.40L1.6 3.40L0.0 3.40L-1.6 3.40L-3.2 3.40L-4.8 3.40L-6.3 3.39L-7.9 3.36L-9.5 3.31L-11.1 3.18L-12.7 2.89L-14.2 0.00Z" transform="translate(1267.3 693.8)" fill="#040404" opacity="1.0" filter="url(#b1)"/>
<path d="M-14.2 0.00L-12.7 -2.89L-11.1 -3.18L-9.5 -3.31L-7.9 -3.36L-6.3 -3.39L-4.8 -3.40L-3.2 -3.40L-1.6 -3.40L0.0 -3.40L1.6 -3.40L3.2 -3.40L4.7 -3.40L6.3 -3.39L7.9 -3.36L9.5 -3.31L11.1 -3.18L12.7 -2.89L14.2 0.00L14.2 0.00L12.7 2.89L11.1 3.18L9.5 3.31L7.9 3.36L6.3 3.39L4.7 3.40L3.2 3.40L1.6 3.40L0.0 3.40L-1.6 3.40L-3.2 3.40L-4.8 3.40L-6.3 3.39L-7.9 3.36L-9.5 3.31L-11.1 3.18L-12.7 2.89L-14.2 0.00Z" transform="translate(1307.1 693.0) rotate(-1)" fill="#040404" opacity="1.0" filter="url(#b1)"/>
<path d="M-14.2 0.00L-12.7 -2.89L-11.1 -3.18L-9.5 -3.31L-7.9 -3.36L-6.3 -3.39L-4.8 -3.40L-3.2 -3.40L-1.6 -3.40L0.0 -3.40L1.6 -3.40L3.2 -3.40L4.7 -3.40L6.3 -3.39L7.9 -3.36L9.5 -3.31L11.1 -3.18L12.7 -2.89L14.2 0.00L14.2 0.00L12.7 2.89L11.1 3.18L9.5 3.31L7.9 3.36L6.3 3.39L4.7 3.40L3.2 3.40L1.6 3.40L0.0 3.40L-1.6 3.40L-3.2 3.40L-4.8 3.40L-6.3 3.39L-7.9 3.36L-9.5 3.31L-11.1 3.18L-12.7 2.89L-14.2 0.00Z" transform="translate(1348.0 691.6) rotate(-3)" fill="#040404" opacity="1.0" filter="url(#b1)"/>
<path d="M-14.2 0.00L-12.7 -2.89L-11.1 -3.18L-9.5 -3.31L-7.9 -3.36L-6.3 -3.39L-4.8 -3.40L-3.2 -3.40L-1.6 -3.40L0.0 -3.40L1.6 -3.40L3.2 -3.40L4.7 -3.40L6.3 -3.39L7.9 -3.36L9.5 -3.31L11.1 -3.18L12.7 -2.89L14.2 0.00L14.2 0.00L12.7 2.89L11.1 3.18L9.5 3.31L7.9 3.36L6.3 3.39L4.7 3.40L3.2 3.40L1.6 3.40L0.0 3.40L-1.6 3.40L-3.2 3.40L-4.8 3.40L-6.3 3.39L-7.9 3.36L-9.5 3.31L-11.1 3.18L-12.7 2.89L-14.2 0.00Z" transform="translate(1388.9 690.0) rotate(-5)" fill="#040404" opacity="1.0" filter="url(#b1)"/>
<clipPath id="c752"><rect x="850.3" y="752.2" width="608.5" height="79.2"/></clipPath>
<rect x="850.3" y="752.2" width="608.5" height="79.2" fill="#a0a0a0"/>
<rect x="850.3" y="752.2" width="40" height="79.2" fill="url(#lane)" opacity="0.09"/>
<ellipse cx="869.0" cy="767.6" rx="13.0" ry="9.5" fill="#fff" opacity="0.165" filter="url(#b3)"/>
<ellipse cx="868.0" cy="813.5" rx="13.0" ry="9.5" fill="#fff" opacity="0.165" filter="url(#b3)"/>
<path d="M-15.8 -0.30L-14.0 -3.89L-12.2 -4.20L-10.5 -4.31L-8.8 -4.35L-7.0 -4.34L-5.3 -4.33L-3.5 -4.31L-1.8 -4.30L0.0 -4.30L1.8 -4.30L3.5 -4.31L5.2 -4.33L7.0 -4.34L8.8 -4.35L10.5 -4.31L12.2 -4.20L14.0 -3.89L15.8 -0.30L15.8 -0.30L14.0 3.42L12.2 3.84L10.5 4.05L8.8 4.16L7.0 4.23L5.2 4.26L3.5 4.28L1.8 4.30L0.0 4.30L-1.8 4.30L-3.5 4.28L-5.3 4.26L-7.0 4.23L-8.8 4.16L-10.5 4.05L-12.2 3.84L-14.0 3.42L-15.8 -0.30Z" transform="translate(951.0 796.2)" fill="#040404" opacity="1.0" filter="url(#b1)"/>
<path d="M-16.2 -0.30L-14.4 -4.66L-12.6 -5.04L-10.8 -5.19L-9.0 -5.24L-7.2 -5.24L-5.4 -5.23L-3.6 -5.21L-1.8 -5.20L0.0 -5.20L1.8 -5.20L3.6 -5.21L5.4 -5.23L7.2 -5.24L9.0 -5.24L10.8 -5.19L12.6 -5.04L14.4 -4.66L16.2 -0.30L16.2 -0.30L14.4 4.19L12.6 4.68L10.8 4.92L9.0 5.05L7.2 5.12L5.4 5.16L3.6 5.18L1.8 5.20L0.0 5.20L-1.8 5.20L-3.6 5.18L-5.4 5.16L-7.2 5.12L-9.0 5.05L-10.8 4.92L-12.6 4.68L-14.4 4.19L-16.2 -0.30Z" transform="translate(951.0 809.2)" fill="#040404" opacity="1.0" filter="url(#b1)"/>
<path d="M-14.5 -0.70L-12.9 -3.02L-11.3 -3.14L-9.7 -3.13L-8.1 -3.08L-6.4 -3.03L-4.8 -2.98L-3.2 -2.93L-1.6 -2.91L0.0 -2.90L1.6 -2.91L3.2 -2.93L4.8 -2.98L6.4 -3.03L8.1 -3.08L9.7 -3.13L11.3 -3.14L12.9 -3.02L14.5 -0.70L14.5 -0.70L12.9 1.91L11.3 2.29L9.7 2.51L8.1 2.65L6.4 2.75L4.8 2.82L3.2 2.87L1.6 2.89L0.0 2.90L-1.6 2.89L-3.2 2.87L-4.8 2.82L-6.4 2.75L-8.1 2.65L-9.7 2.51L-11.3 2.29L-12.9 1.91L-14.5 -0.70Z" transform="translate(990.7 798.4)" fill="#040404" opacity="0.74" filter="url(#b15)"/>
<path d="M-15.2 -0.90L-13.6 -4.24L-11.9 -4.43L-10.2 -4.43L-8.5 -4.38L-6.8 -4.31L-5.1 -4.25L-3.4 -4.19L-1.7 -4.16L0.0 -4.15L1.7 -4.16L3.4 -4.19L5.1 -4.25L6.8 -4.31L8.5 -4.38L10.2 -4.43L11.9 -4.43L13.6 -4.24L15.2 -0.90L15.2 -0.90L13.6 2.82L11.9 3.34L10.2 3.63L8.5 3.83L6.8 3.96L5.1 4.05L3.4 4.11L1.7 4.14L0.0 4.15L-1.7 4.14L-3.4 4.11L-5.1 4.05L-6.8 3.96L-8.5 3.83L-10.2 3.63L-11.9 3.34L-13.6 2.82L-15.2 -0.90Z" transform="translate(990.7 810.6)" fill="#040404" opacity="1.0" filter="url(#b1)"/>
<path d="M-14.5 -0.70L-12.9 -3.02L-11.3 -3.14L-9.7 -3.13L-8.1 -3.08L-6.4 -3.03L-4.8 -2.98L-3.2 -2.93L-1.6 -2.91L0.0 -2.90L1.6 -2.91L3.2 -2.93L4.8 -2.98L6.4 -3.03L8.1 -3.08L9.7 -3.13L11.3 -3.14L12.9 -3.02L14.5 -0.70L14.5 -0.70L12.9 1.91L11.3 2.29L9.7 2.51L8.1 2.65L6.4 2.75L4.8 2.82L3.2 2.87L1.6 2.89L0.0 2.90L-1.6 2.89L-3.2 2.87L-4.8 2.82L-6.4 2.75L-8.1 2.65L-9.7 2.51L-11.3 2.29L-12.9 1.91L-14.5 -0.70Z" transform="translate(1029.4 798.4)" fill="#040404" opacity="0.74" filter="url(#b15)"/>
<path d="M-15.2 -0.90L-13.6 -4.24L-11.9 -4.43L-10.2 -4.43L-8.5 -4.38L-6.8 -4.31L-5.1 -4.25L-3.4 -4.19L-1.7 -4.16L0.0 -4.15L1.7 -4.16L3.4 -4.19L5.1 -4.25L6.8 -4.31L8.5 -4.38L10.2 -4.43L11.9 -4.43L13.6 -4.24L15.2 -0.90L15.2 -0.90L13.6 2.82L11.9 3.34L10.2 3.63L8.5 3.83L6.8 3.96L5.1 4.05L3.4 4.11L1.7 4.14L0.0 4.15L-1.7 4.14L-3.4 4.11L-5.1 4.05L-6.8 3.96L-8.5 3.83L-10.2 3.63L-11.9 3.34L-13.6 2.82L-15.2 -0.90Z" transform="translate(1029.4 810.6)" fill="#040404" opacity="1.0" filter="url(#b1)"/>
<path d="M-14.5 -0.70L-12.9 -3.02L-11.3 -3.14L-9.7 -3.13L-8.1 -3.08L-6.4 -3.03L-4.8 -2.98L-3.2 -2.93L-1.6 -2.91L0.0 -2.90L1.6 -2.91L3.2 -2.93L4.8 -2.98L6.4 -3.03L8.1 -3.08L9.7 -3.13L11.3 -3.14L12.9 -3.02L14.5 -0.70L14.5 -0.70L12.9 1.91L11.3 2.29L9.7 2.51L8.1 2.65L6.4 2.75L4.8 2.82L3.2 2.87L1.6 2.89L0.0 2.90L-1.6 2.89L-3.2 2.87L-4.8 2.82L-6.4 2.75L-8.1 2.65L-9.7 2.51L-11.3 2.29L-12.9 1.91L-14.5 -0.70Z" transform="translate(1068.2 798.4)" fill="#040404" opacity="0.74" filter="url(#b15)"/>
<path d="M-15.2 -0.90L-13.6 -4.24L-11.9 -4.43L-10.2 -4.43L-8.5 -4.38L-6.8 -4.31L-5.1 -4.25L-3.4 -4.19L-1.7 -4.16L0.0 -4.15L1.7 -4.16L3.4 -4.19L5.1 -4.25L6.8 -4.31L8.5 -4.38L10.2 -4.43L11.9 -4.43L13.6 -4.24L15.2 -0.90L15.2 -0.90L13.6 2.82L11.9 3.34L10.2 3.63L8.5 3.83L6.8 3.96L5.1 4.05L3.4 4.11L1.7 4.14L0.0 4.15L-1.7 4.14L-3.4 4.11L-5.1 4.05L-6.8 3.96L-8.5 3.83L-10.2 3.63L-11.9 3.34L-13.6 2.82L-15.2 -0.90Z" transform="translate(1068.2 810.6)" fill="#040404" opacity="1.0" filter="url(#b1)"/>
<path d="M-14.5 -0.70L-12.9 -3.02L-11.3 -3.14L-9.7 -3.13L-8.1 -3.08L-6.4 -3.03L-4.8 -2.98L-3.2 -2.93L-1.6 -2.91L0.0 -2.90L1.6 -2.91L3.2 -2.93L4.8 -2.98L6.4 -3.03L8.1 -3.08L9.7 -3.13L11.3 -3.14L12.9 -3.02L14.5 -0.70L14.5 -0.70L12.9 1.91L11.3 2.29L9.7 2.51L8.1 2.65L6.4 2.75L4.8 2.82L3.2 2.87L1.6 2.89L0.0 2.90L-1.6 2.89L-3.2 2.87L-4.8 2.82L-6.4 2.75L-8.1 2.65L-9.7 2.51L-11.3 2.29L-12.9 1.91L-14.5 -0.70Z" transform="translate(1106.9 798.4)" fill="#040404" opacity="0.74" filter="url(#b15)"/>
<path d="M-15.2 -0.90L-13.6 -4.24L-11.9 -4.43L-10.2 -4.43L-8.5 -4.38L-6.8 -4.31L-5.1 -4.25L-3.4 -4.19L-1.7 -4.16L0.0 -4.15L1.7 -4.16L3.4 -4.19L5.1 -4.25L6.8 -4.31L8.5 -4.38L10.2 -4.43L11.9 -4.43L13.6 -4.24L15.2 -0.90L15.2 -0.90L13.6 2.82L11.9 3.34L10.2 3.63L8.5 3.83L6.8 3.96L5.1 4.05L3.4 4.11L1.7 4.14L0.0 4.15L-1.7 4.14L-3.4 4.11L-5.1 4.05L-6.8 3.96L-8.5 3.83L-10.2 3.63L-11.9 3.34L-13.6 2.82L-15.2 -0.90Z" transform="translate(1106.9 810.6)" fill="#040404" opacity="1.0" filter="url(#b1)"/>
<path d="M-14.5 -0.70L-12.9 -3.02L-11.3 -3.14L-9.7 -3.13L-8.1 -3.08L-6.4 -3.03L-4.8 -2.98L-3.2 -2.93L-1.6 -2.91L0.0 -2.90L1.6 -2.91L3.2 -2.93L4.8 -2.98L6.4 -3.03L8.1 -3.08L9.7 -3.13L11.3 -3.14L12.9 -3.02L14.5 -0.70L14.5 -0.70L12.9 1.91L11.3 2.29L9.7 2.51L8.1 2.65L6.4 2.75L4.8 2.82L3.2 2.87L1.6 2.89L0.0 2.90L-1.6 2.89L-3.2 2.87L-4.8 2.82L-6.4 2.75L-8.1 2.65L-9.7 2.51L-11.3 2.29L-12.9 1.91L-14.5 -0.70Z" transform="translate(1146.5 798.4)" fill="#040404" opacity="0.74" filter="url(#b15)"/>
<path d="M-15.2 -0.90L-13.6 -4.24L-11.9 -4.43L-10.2 -4.43L-8.5 -4.38L-6.8 -4.31L-5.1 -4.25L-3.4 -4.19L-1.7 -4.16L0.0 -4.15L1.7 -4.16L3.4 -4.19L5.1 -4.25L6.8 -4.31L8.5 -4.38L10.2 -4.43L11.9 -4.43L13.6 -4.24L15.2 -0.90L15.2 -0.90L13.6 2.82L11.9 3.34L10.2 3.63L8.5 3.83L6.8 3.96L5.1 4.05L3.4 4.11L1.7 4.14L0.0 4.15L-1.7 4.14L-3.4 4.11L-5.1 4.05L-6.8 3.96L-8.5 3.83L-10.2 3.63L-11.9 3.34L-13.6 2.82L-15.2 -0.90Z" transform="translate(1146.5 810.6)" fill="#040404" opacity="1.0" filter="url(#b1)"/>
<path d="M-15.8 -0.30L-14.0 -3.89L-12.2 -4.20L-10.5 -4.31L-8.8 -4.35L-7.0 -4.34L-5.3 -4.33L-3.5 -4.31L-1.8 -4.30L0.0 -4.30L1.8 -4.30L3.5 -4.31L5.2 -4.33L7.0 -4.34L8.8 -4.35L10.5 -4.31L12.2 -4.20L14.0 -3.89L15.8 -0.30L15.8 -0.30L14.0 3.42L12.2 3.84L10.5 4.05L8.8 4.16L7.0 4.23L5.2 4.26L3.5 4.28L1.8 4.30L0.0 4.30L-1.8 4.30L-3.5 4.28L-5.3 4.26L-7.0 4.23L-8.8 4.16L-10.5 4.05L-12.2 3.84L-14.0 3.42L-15.8 -0.30Z" transform="translate(1186.5 797.2)" fill="#040404" opacity="1.0" filter="url(#b1)"/>
<path d="M-16.2 -0.30L-14.4 -4.66L-12.6 -5.04L-10.8 -5.19L-9.0 -5.24L-7.2 -5.24L-5.4 -5.23L-3.6 -5.21L-1.8 -5.20L0.0 -5.20L1.8 -5.20L3.6 -5.21L5.4 -5.23L7.2 -5.24L9.0 -5.24L10.8 -5.19L12.6 -5.04L14.4 -4.66L16.2 -0.30L16.2 -0.30L14.4 4.19L12.6 4.68L10.8 4.92L9.0 5.05L7.2 5.12L5.4 5.16L3.6 5.18L1.8 5.20L0.0 5.20L-1.8 5.20L-3.6 5.18L-5.4 5.16L-7.2 5.12L-9.0 5.05L-10.8 4.92L-12.6 4.68L-14.4 4.19L-16.2 -0.30Z" transform="translate(1186.5 810.2)" fill="#040404" opacity="1.0" filter="url(#b1)"/>
<path d="M-12.5 0.00L-11.1 -1.28L-9.7 -1.40L-8.3 -1.46L-6.9 -1.48L-5.6 -1.49L-4.2 -1.50L-2.8 -1.50L-1.4 -1.50L0.0 -1.50L1.4 -1.50L2.8 -1.50L4.2 -1.50L5.6 -1.49L6.9 -1.48L8.3 -1.46L9.7 -1.40L11.1 -1.28L12.5 0.00L12.5 0.00L11.1 1.28L9.7 1.40L8.3 1.46L6.9 1.48L5.6 1.49L4.2 1.50L2.8 1.50L1.4 1.50L0.0 1.50L-1.4 1.50L-2.8 1.50L-4.2 1.50L-5.6 1.49L-6.9 1.48L-8.3 1.46L-9.7 1.40L-11.1 1.28L-12.5 0.00Z" transform="translate(1224.4 797.8)" fill="#1a1a1a" opacity="0.05" filter="url(#b2)"/>
<path d="M-12.5 0.00L-11.1 -1.45L-9.7 -1.59L-8.3 -1.65L-6.9 -1.68L-5.6 -1.69L-4.2 -1.70L-2.8 -1.70L-1.4 -1.70L0.0 -1.70L1.4 -1.70L2.8 -1.70L4.2 -1.70L5.6 -1.69L6.9 -1.68L8.3 -1.65L9.7 -1.59L11.1 -1.45L12.5 0.00L12.5 0.00L11.1 1.45L9.7 1.59L8.3 1.65L6.9 1.68L5.6 1.69L4.2 1.70L2.8 1.70L1.4 1.70L0.0 1.70L-1.4 1.70L-2.8 1.70L-4.2 1.70L-5.6 1.69L-6.9 1.68L-8.3 1.65L-9.7 1.59L-11.1 1.45L-12.5 0.00Z" transform="translate(1224.4 810.2)" fill="#1a1a1a" opacity="0.07" filter="url(#b2)"/>
<path d="M-12.5 0.00L-11.1 -1.28L-9.7 -1.40L-8.3 -1.46L-6.9 -1.48L-5.6 -1.49L-4.2 -1.50L-2.8 -1.50L-1.4 -1.50L0.0 -1.50L1.4 -1.50L2.8 -1.50L4.2 -1.50L5.6 -1.49L6.9 -1.48L8.3 -1.46L9.7 -1.40L11.1 -1.28L12.5 0.00L12.5 0.00L11.1 1.28L9.7 1.40L8.3 1.46L6.9 1.48L5.6 1.49L4.2 1.50L2.8 1.50L1.4 1.50L0.0 1.50L-1.4 1.50L-2.8 1.50L-4.2 1.50L-5.6 1.49L-6.9 1.48L-8.3 1.46L-9.7 1.40L-11.1 1.28L-12.5 0.00Z" transform="translate(1266.2 797.8)" fill="#1a1a1a" opacity="0.05" filter="url(#b2)"/>
<path d="M-12.5 0.00L-11.1 -1.45L-9.7 -1.59L-8.3 -1.65L-6.9 -1.68L-5.6 -1.69L-4.2 -1.70L-2.8 -1.70L-1.4 -1.70L0.0 -1.70L1.4 -1.70L2.8 -1.70L4.2 -1.70L5.6 -1.69L6.9 -1.68L8.3 -1.65L9.7 -1.59L11.1 -1.45L12.5 0.00L12.5 0.00L11.1 1.45L9.7 1.59L8.3 1.65L6.9 1.68L5.6 1.69L4.2 1.70L2.8 1.70L1.4 1.70L0.0 1.70L-1.4 1.70L-2.8 1.70L-4.2 1.70L-5.6 1.69L-6.9 1.68L-8.3 1.65L-9.7 1.59L-11.1 1.45L-12.5 0.00Z" transform="translate(1266.2 810.2)" fill="#1a1a1a" opacity="0.07" filter="url(#b2)"/>
<path d="M-14.5 -0.70L-12.9 -3.02L-11.3 -3.14L-9.7 -3.13L-8.1 -3.08L-6.4 -3.03L-4.8 -2.98L-3.2 -2.93L-1.6 -2.91L0.0 -2.90L1.6 -2.91L3.2 -2.93L4.8 -2.98L6.4 -3.03L8.1 -3.08L9.7 -3.13L11.3 -3.14L12.9 -3.02L14.5 -0.70L14.5 -0.70L12.9 1.91L11.3 2.29L9.7 2.51L8.1 2.65L6.4 2.75L4.8 2.82L3.2 2.87L1.6 2.89L0.0 2.90L-1.6 2.89L-3.2 2.87L-4.8 2.82L-6.4 2.75L-8.1 2.65L-9.7 2.51L-11.3 2.29L-12.9 1.91L-14.5 -0.70Z" transform="translate(1306.2 799.4)" fill="#040404" opacity="0.74" filter="url(#b15)"/>
<path d="M-15.2 -0.90L-13.6 -4.24L-11.9 -4.43L-10.2 -4.43L-8.5 -4.38L-6.8 -4.31L-5.1 -4.25L-3.4 -4.19L-1.7 -4.16L0.0 -4.15L1.7 -4.16L3.4 -4.19L5.1 -4.25L6.8 -4.31L8.5 -4.38L10.2 -4.43L11.9 -4.43L13.6 -4.24L15.2 -0.90L15.2 -0.90L13.6 2.82L11.9 3.34L10.2 3.63L8.5 3.83L6.8 3.96L5.1 4.05L3.4 4.11L1.7 4.14L0.0 4.15L-1.7 4.14L-3.4 4.11L-5.1 4.05L-6.8 3.96L-8.5 3.83L-10.2 3.63L-11.9 3.34L-13.6 2.82L-15.2 -0.90Z" transform="translate(1306.2 811.6)" fill="#040404" opacity="1.0" filter="url(#b1)"/>
<path d="M-14.5 -0.70L-12.9 -3.02L-11.3 -3.14L-9.7 -3.13L-8.1 -3.08L-6.4 -3.03L-4.8 -2.98L-3.2 -2.93L-1.6 -2.91L0.0 -2.90L1.6 -2.91L3.2 -2.93L4.8 -2.98L6.4 -3.03L8.1 -3.08L9.7 -3.13L11.3 -3.14L12.9 -3.02L14.5 -0.70L14.5 -0.70L12.9 1.91L11.3 2.29L9.7 2.51L8.1 2.65L6.4 2.75L4.8 2.82L3.2 2.87L1.6 2.89L0.0 2.90L-1.6 2.89L-3.2 2.87L-4.8 2.82L-6.4 2.75L-8.1 2.65L-9.7 2.51L-11.3 2.29L-12.9 1.91L-14.5 -0.70Z" transform="translate(1345.0 799.4)" fill="#040404" opacity="0.74" filter="url(#b15)"/>
<path d="M-15.2 -0.90L-13.6 -4.24L-11.9 -4.43L-10.2 -4.43L-8.5 -4.38L-6.8 -4.31L-5.1 -4.25L-3.4 -4.19L-1.7 -4.16L0.0 -4.15L1.7 -4.16L3.4 -4.19L5.1 -4.25L6.8 -4.31L8.5 -4.38L10.2 -4.43L11.9 -4.43L13.6 -4.24L15.2 -0.90L15.2 -0.90L13.6 2.82L11.9 3.34L10.2 3.63L8.5 3.83L6.8 3.96L5.1 4.05L3.4 4.11L1.7 4.14L0.0 4.15L-1.7 4.14L-3.4 4.11L-5.1 4.05L-6.8 3.96L-8.5 3.83L-10.2 3.63L-11.9 3.34L-13.6 2.82L-15.2 -0.90Z" transform="translate(1345.0 811.6)" fill="#040404" opacity="1.0" filter="url(#b1)"/>
<path d="M-14.5 -0.70L-12.9 -3.02L-11.3 -3.14L-9.7 -3.13L-8.1 -3.08L-6.4 -3.03L-4.8 -2.98L-3.2 -2.93L-1.6 -2.91L0.0 -2.90L1.6 -2.91L3.2 -2.93L4.8 -2.98L6.4 -3.03L8.1 -3.08L9.7 -3.13L11.3 -3.14L12.9 -3.02L14.5 -0.70L14.5 -0.70L12.9 1.91L11.3 2.29L9.7 2.51L8.1 2.65L6.4 2.75L4.8 2.82L3.2 2.87L1.6 2.89L0.0 2.90L-1.6 2.89L-3.2 2.87L-4.8 2.82L-6.4 2.75L-8.1 2.65L-9.7 2.51L-11.3 2.29L-12.9 1.91L-14.5 -0.70Z" transform="translate(1384.6 799.4)" fill="#040404" opacity="0.74" filter="url(#b15)"/>
<path d="M-15.2 -0.90L-13.6 -4.24L-11.9 -4.43L-10.2 -4.43L-8.5 -4.38L-6.8 -4.31L-5.1 -4.25L-3.4 -4.19L-1.7 -4.16L0.0 -4.15L1.7 -4.16L3.4 -4.19L5.1 -4.25L6.8 -4.31L8.5 -4.38L10.2 -4.43L11.9 -4.43L13.6 -4.24L15.2 -0.90L15.2 -0.90L13.6 2.82L11.9 3.34L10.2 3.63L8.5 3.83L6.8 3.96L5.1 4.05L3.4 4.11L1.7 4.14L0.0 4.15L-1.7 4.14L-3.4 4.11L-5.1 4.05L-6.8 3.96L-8.5 3.83L-10.2 3.63L-11.9 3.34L-13.6 2.82L-15.2 -0.90Z" transform="translate(1384.6 811.6)" fill="#040404" opacity="1.0" filter="url(#b1)"/>
<path d="M-12.0 0.00L-10.7 -1.19L-9.3 -1.31L-8.0 -1.36L-6.7 -1.38L-5.3 -1.40L-4.0 -1.40L-2.7 -1.40L-1.3 -1.40L0.0 -1.40L1.3 -1.40L2.7 -1.40L4.0 -1.40L5.3 -1.40L6.7 -1.38L8.0 -1.36L9.3 -1.31L10.7 -1.19L12.0 0.00L12.0 0.00L10.7 1.19L9.3 1.31L8.0 1.36L6.7 1.38L5.3 1.40L4.0 1.40L2.7 1.40L1.3 1.40L0.0 1.40L-1.3 1.40L-2.7 1.40L-4.0 1.40L-5.3 1.40L-6.7 1.38L-8.0 1.36L-9.3 1.31L-10.7 1.19L-12.0 0.00Z" transform="translate(909.0 792.6)" fill="#1a1a1a" opacity="0.15" filter="url(#b2)"/>
<path d="M-12.0 0.00L-10.7 -1.36L-9.3 -1.50L-8.0 -1.56L-6.7 -1.58L-5.3 -1.59L-4.0 -1.60L-2.7 -1.60L-1.3 -1.60L0.0 -1.60L1.3 -1.60L2.7 -1.60L4.0 -1.60L5.3 -1.59L6.7 -1.58L8.0 -1.56L9.3 -1.50L10.7 -1.36L12.0 0.00L12.0 0.00L10.7 1.36L9.3 1.50L8.0 1.56L6.7 1.58L5.3 1.59L4.0 1.60L2.7 1.60L1.3 1.60L0.0 1.60L-1.3 1.60L-2.7 1.60L-4.0 1.60L-5.3 1.59L-6.7 1.58L-8.0 1.56L-9.3 1.50L-10.7 1.36L-12.0 0.00Z" transform="translate(909.0 804.2)" fill="#1a1a1a" opacity="0.2" filter="url(#b2)"/>
<path d="M-11.5 0.00L-10.2 -1.11L-8.9 -1.22L-7.7 -1.26L-6.4 -1.29L-5.1 -1.30L-3.8 -1.30L-2.6 -1.30L-1.3 -1.30L0.0 -1.30L1.3 -1.30L2.6 -1.30L3.8 -1.30L5.1 -1.30L6.4 -1.29L7.7 -1.26L8.9 -1.22L10.2 -1.11L11.5 0.00L11.5 0.00L10.2 1.11L8.9 1.22L7.7 1.26L6.4 1.29L5.1 1.30L3.8 1.30L2.6 1.30L1.3 1.30L0.0 1.30L-1.3 1.30L-2.6 1.30L-3.8 1.30L-5.1 1.30L-6.4 1.29L-7.7 1.26L-8.9 1.22L-10.2 1.11L-11.5 0.00Z" transform="translate(1423.5 797.0)" fill="#1a1a1a" opacity="0.045" filter="url(#b2)"/>
<path d="M-11.5 0.00L-10.2 -1.28L-8.9 -1.40L-7.7 -1.46L-6.4 -1.48L-5.1 -1.49L-3.8 -1.50L-2.6 -1.50L-1.3 -1.50L0.0 -1.50L1.3 -1.50L2.6 -1.50L3.8 -1.50L5.1 -1.49L6.4 -1.48L7.7 -1.46L8.9 -1.40L10.2 -1.28L11.5 0.00L11.5 0.00L10.2 1.28L8.9 1.40L7.7 1.46L6.4 1.48L5.1 1.49L3.8 1.50L2.6 1.50L1.3 1.50L0.0 1.50L-1.3 1.50L-2.6 1.50L-3.8 1.50L-5.1 1.49L-6.4 1.48L-7.7 1.46L-8.9 1.40L-10.2 1.28L-11.5 0.00Z" transform="translate(1423.5 809.5)" fill="#1a1a1a" opacity="0.07" filter="url(#b2)"/>
<clipPath id="c852"><rect x="848" y="852.2" width="610.8" height="80"/></clipPath>
<rect x="848" y="852.2" width="610.8" height="80" fill="#959595"/>
<rect x="848" y="852.2" width="38" height="80" fill="url(#lane)" opacity="0.14"/>
<ellipse cx="864.0" cy="868.5" rx="11.5" ry="8.0" fill="#fff" opacity="0.088" filter="url(#b3)"/>
<ellipse cx="864.0" cy="908.0" rx="11.5" ry="8.5" fill="#fff" opacity="0.088" filter="url(#b3)"/>
<path d="M-14.8 -0.80L-13.1 -3.10L-11.5 -3.20L-9.8 -3.17L-8.2 -3.12L-6.6 -3.05L-4.9 -2.99L-3.3 -2.94L-1.6 -2.91L0.0 -2.90L1.6 -2.91L3.3 -2.94L4.9 -2.99L6.6 -3.05L8.2 -3.12L9.8 -3.17L11.5 -3.20L13.1 -3.10L14.8 -0.80L14.8 -0.80L13.1 1.83L11.5 2.23L9.8 2.46L8.2 2.62L6.6 2.73L4.9 2.81L3.3 2.86L1.6 2.89L0.0 2.90L-1.6 2.89L-3.3 2.86L-4.9 2.81L-6.6 2.73L-8.2 2.62L-9.8 2.46L-11.5 2.23L-13.1 1.83L-14.8 -0.80Z" transform="translate(904.6 901.4) rotate(3)" fill="#040404" opacity="0.76" filter="url(#b15)"/>
<path d="M-15.2 -1.00L-13.6 -4.32L-11.9 -4.49L-10.2 -4.48L-8.5 -4.41L-6.8 -4.33L-5.1 -4.26L-3.4 -4.20L-1.7 -4.16L0.0 -4.15L1.7 -4.16L3.4 -4.20L5.1 -4.26L6.8 -4.33L8.5 -4.41L10.2 -4.48L11.9 -4.49L13.6 -4.32L15.2 -1.00L15.2 -1.00L13.6 2.74L11.9 3.28L10.2 3.59L8.5 3.80L6.8 3.94L5.1 4.04L3.4 4.10L1.7 4.14L0.0 4.15L-1.7 4.14L-3.4 4.10L-5.1 4.04L-6.8 3.94L-8.5 3.80L-10.2 3.59L-11.9 3.28L-13.6 2.74L-15.2 -1.00Z" transform="translate(904.6 913.8) rotate(3)" fill="#040404" opacity="1.0" filter="url(#b1)"/>
<path d="M-14.8 -0.80L-13.1 -3.10L-11.5 -3.20L-9.8 -3.17L-8.2 -3.12L-6.6 -3.05L-4.9 -2.99L-3.3 -2.94L-1.6 -2.91L0.0 -2.90L1.6 -2.91L3.3 -2.94L4.9 -2.99L6.6 -3.05L8.2 -3.12L9.8 -3.17L11.5 -3.20L13.1 -3.10L14.8 -0.80L14.8 -0.80L13.1 1.83L11.5 2.23L9.8 2.46L8.2 2.62L6.6 2.73L4.9 2.81L3.3 2.86L1.6 2.89L0.0 2.90L-1.6 2.89L-3.3 2.86L-4.9 2.81L-6.6 2.73L-8.2 2.62L-9.8 2.46L-11.5 2.23L-13.1 1.83L-14.8 -0.80Z" transform="translate(945.5 904.6) rotate(1)" fill="#040404" opacity="0.76" filter="url(#b15)"/>
<path d="M-15.2 -1.00L-13.6 -4.32L-11.9 -4.49L-10.2 -4.48L-8.5 -4.41L-6.8 -4.33L-5.1 -4.26L-3.4 -4.20L-1.7 -4.16L0.0 -4.15L1.7 -4.16L3.4 -4.20L5.1 -4.26L6.8 -4.33L8.5 -4.41L10.2 -4.48L11.9 -4.49L13.6 -4.32L15.2 -1.00L15.2 -1.00L13.6 2.74L11.9 3.28L10.2 3.59L8.5 3.80L6.8 3.94L5.1 4.04L3.4 4.10L1.7 4.14L0.0 4.15L-1.7 4.14L-3.4 4.10L-5.1 4.04L-6.8 3.94L-8.5 3.80L-10.2 3.59L-11.9 3.28L-13.6 2.74L-15.2 -1.00Z" transform="translate(945.5 916.8) rotate(1)" fill="#040404" opacity="1.0" filter="url(#b1)"/>
<path d="M-14.8 -0.80L-13.1 -3.10L-11.5 -3.20L-9.8 -3.17L-8.2 -3.12L-6.6 -3.05L-4.9 -2.99L-3.3 -2.94L-1.6 -2.91L0.0 -2.90L1.6 -2.91L3.3 -2.94L4.9 -2.99L6.6 -3.05L8.2 -3.12L9.8 -3.17L11.5 -3.20L13.1 -3.10L14.8 -0.80L14.8 -0.80L13.1 1.83L11.5 2.23L9.8 2.46L8.2 2.62L6.6 2.73L4.9 2.81L3.3 2.86L1.6 2.89L0.0 2.90L-1.6 2.89L-3.3 2.86L-4.9 2.81L-6.6 2.73L-8.2 2.62L-9.8 2.46L-11.5 2.23L-13.1 1.83L-14.8 -0.80Z" transform="translate(985.5 905.8)" fill="#040404" opacity="0.76" filter="url(#b15)"/>
<path d="M-15.2 -1.00L-13.6 -4.32L-11.9 -4.49L-10.2 -4.48L-8.5 -4.41L-6.8 -4.33L-5.1 -4.26L-3.4 -4.20L-1.7 -4.16L0.0 -4.15L1.7 -4.16L3.4 -4.20L5.1 -4.26L6.8 -4.33L8.5 -4.41L10.2 -4.48L11.9 -4.49L13.6 -4.32L15.2 -1.00L15.2 -1.00L13.6 2.74L11.9 3.28L10.2 3.59L8.5 3.80L6.8 3.94L5.1 4.04L3.4 4.10L1.7 4.14L0.0 4.15L-1.7 4.14L-3.4 4.10L-5.1 4.04L-6.8 3.94L-8.5 3.80L-10.2 3.59L-11.9 3.28L-13.6 2.74L-15.2 -1.00Z" transform="translate(985.5 918.0)" fill="#040404" opacity="1.0" filter="url(#b1)"/>
<path d="M-14.8 -0.80L-13.1 -3.10L-11.5 -3.20L-9.8 -3.17L-8.2 -3.12L-6.6 -3.05L-4.9 -2.99L-3.3 -2.94L-1.6 -2.91L0.0 -2.90L1.6 -2.91L3.3 -2.94L4.9 -2.99L6.6 -3.05L8.2 -3.12L9.8 -3.17L11.5 -3.20L13.1 -3.10L14.8 -0.80L14.8 -0.80L13.1 1.83L11.5 2.23L9.8 2.46L8.2 2.62L6.6 2.73L4.9 2.81L3.3 2.86L1.6 2.89L0.0 2.90L-1.6 2.89L-3.3 2.86L-4.9 2.81L-6.6 2.73L-8.2 2.62L-9.8 2.46L-11.5 2.23L-13.1 1.83L-14.8 -0.80Z" transform="translate(1024.2 907.1)" fill="#040404" opacity="0.76" filter="url(#b15)"/>
<path d="M-15.2 -1.00L-13.6 -4.32L-11.9 -4.49L-10.2 -4.48L-8.5 -4.41L-6.8 -4.33L-5.1 -4.26L-3.4 -4.20L-1.7 -4.16L0.0 -4.15L1.7 -4.16L3.4 -4.20L5.1 -4.26L6.8 -4.33L8.5 -4.41L10.2 -4.48L11.9 -4.49L13.6 -4.32L15.2 -1.00L15.2 -1.00L13.6 2.74L11.9 3.28L10.2 3.59L8.5 3.80L6.8 3.94L5.1 4.04L3.4 4.10L1.7 4.14L0.0 4.15L-1.7 4.14L-3.4 4.10L-5.1 4.04L-6.8 3.94L-8.5 3.80L-10.2 3.59L-11.9 3.28L-13.6 2.74L-15.2 -1.00Z" transform="translate(1024.2 919.6)" fill="#040404" opacity="1.0" filter="url(#b1)"/>
<path d="M-14.8 -0.80L-13.1 -3.10L-11.5 -3.20L-9.8 -3.17L-8.2 -3.12L-6.6 -3.05L-4.9 -2.99L-3.3 -2.94L-1.6 -2.91L0.0 -2.90L1.6 -2.91L3.3 -2.94L4.9 -2.99L6.6 -3.05L8.2 -3.12L9.8 -3.17L11.5 -3.20L13.1 -3.10L14.8 -0.80L14.8 -0.80L13.1 1.83L11.5 2.23L9.8 2.46L8.2 2.62L6.6 2.73L4.9 2.81L3.3 2.86L1.6 2.89L0.0 2.90L-1.6 2.89L-3.3 2.86L-4.9 2.81L-6.6 2.73L-8.2 2.62L-9.8 2.46L-11.5 2.23L-13.1 1.83L-14.8 -0.80Z" transform="translate(1063.8 907.2)" fill="#040404" opacity="0.76" filter="url(#b15)"/>
<path d="M-15.2 -1.00L-13.6 -4.32L-11.9 -4.49L-10.2 -4.48L-8.5 -4.41L-6.8 -4.33L-5.1 -4.26L-3.4 -4.20L-1.7 -4.16L0.0 -4.15L1.7 -4.16L3.4 -4.20L5.1 -4.26L6.8 -4.33L8.5 -4.41L10.2 -4.48L11.9 -4.49L13.6 -4.32L15.2 -1.00L15.2 -1.00L13.6 2.74L11.9 3.28L10.2 3.59L8.5 3.80L6.8 3.94L5.1 4.04L3.4 4.10L1.7 4.14L0.0 4.15L-1.7 4.14L-3.4 4.10L-5.1 4.04L-6.8 3.94L-8.5 3.80L-10.2 3.59L-11.9 3.28L-13.6 2.74L-15.2 -1.00Z" transform="translate(1063.8 920.0)" fill="#040404" opacity="1.0" filter="url(#b1)"/>
<path d="M-14.8 -0.80L-13.1 -3.10L-11.5 -3.20L-9.8 -3.17L-8.2 -3.12L-6.6 -3.05L-4.9 -2.99L-3.3 -2.94L-1.6 -2.91L0.0 -2.90L1.6 -2.91L3.3 -2.94L4.9 -2.99L6.6 -3.05L8.2 -3.12L9.8 -3.17L11.5 -3.20L13.1 -3.10L14.8 -0.80L14.8 -0.80L13.1 1.83L11.5 2.23L9.8 2.46L8.2 2.62L6.6 2.73L4.9 2.81L3.3 2.86L1.6 2.89L0.0 2.90L-1.6 2.89L-3.3 2.86L-4.9 2.81L-6.6 2.73L-8.2 2.62L-9.8 2.46L-11.5 2.23L-13.1 1.83L-14.8 -0.80Z" transform="translate(1103.5 907.2)" fill="#040404" opacity="0.76" filter="url(#b15)"/>
<path d="M-15.2 -1.00L-13.6 -4.32L-11.9 -4.49L-10.2 -4.48L-8.5 -4.41L-6.8 -4.33L-5.1 -4.26L-3.4 -4.20L-1.7 -4.16L0.0 -4.15L1.7 -4.16L3.4 -4.20L5.1 -4.26L6.8 -4.33L8.5 -4.41L10.2 -4.48L11.9 -4.49L13.6 -4.32L15.2 -1.00L15.2 -1.00L13.6 2.74L11.9 3.28L10.2 3.59L8.5 3.80L6.8 3.94L5.1 4.04L3.4 4.10L1.7 4.14L0.0 4.15L-1.7 4.14L-3.4 4.10L-5.1 4.04L-6.8 3.94L-8.5 3.80L-10.2 3.59L-11.9 3.28L-13.6 2.74L-15.2 -1.00Z" transform="translate(1103.5 920.0)" fill="#040404" opacity="1.0" filter="url(#b1)"/>
<path d="M-14.8 -0.80L-13.1 -3.10L-11.5 -3.20L-9.8 -3.17L-8.2 -3.12L-6.6 -3.05L-4.9 -2.99L-3.3 -2.94L-1.6 -2.91L0.0 -2.90L1.6 -2.91L3.3 -2.94L4.9 -2.99L6.6 -3.05L8.2 -3.12L9.8 -3.17L11.5 -3.20L13.1 -3.10L14.8 -0.80L14.8 -0.80L13.1 1.83L11.5 2.23L9.8 2.46L8.2 2.62L6.6 2.73L4.9 2.81L3.3 2.86L1.6 2.89L0.0 2.90L-1.6 2.89L-3.3 2.86L-4.9 2.81L-6.6 2.73L-8.2 2.62L-9.8 2.46L-11.5 2.23L-13.1 1.83L-14.8 -0.80Z" transform="translate(1143.5 906.8)" fill="#040404" opacity="0.76" filter="url(#b15)"/>
<path d="M-15.2 -1.00L-13.6 -4.32L-11.9 -4.49L-10.2 -4.48L-8.5 -4.41L-6.8 -4.33L-5.1 -4.26L-3.4 -4.20L-1.7 -4.16L0.0 -4.15L1.7 -4.16L3.4 -4.20L5.1 -4.26L6.8 -4.33L8.5 -4.41L10.2 -4.48L11.9 -4.49L13.6 -4.32L15.2 -1.00L15.2 -1.00L13.6 2.74L11.9 3.28L10.2 3.59L8.5 3.80L6.8 3.94L5.1 4.04L3.4 4.10L1.7 4.14L0.0 4.15L-1.7 4.14L-3.4 4.10L-5.1 4.04L-6.8 3.94L-8.5 3.80L-10.2 3.59L-11.9 3.28L-13.6 2.74L-15.2 -1.00Z" transform="translate(1143.5 919.6)" fill="#040404" opacity="1.0" filter="url(#b1)"/>
<path d="M-14.8 -0.80L-13.1 -3.10L-11.5 -3.20L-9.8 -3.17L-8.2 -3.12L-6.6 -3.05L-4.9 -2.99L-3.3 -2.94L-1.6 -2.91L0.0 -2.90L1.6 -2.91L3.3 -2.94L4.9 -2.99L6.6 -3.05L8.2 -3.12L9.8 -3.17L11.5 -3.20L13.1 -3.10L14.8 -0.80L14.8 -0.80L13.1 1.83L11.5 2.23L9.8 2.46L8.2 2.62L6.6 2.73L4.9 2.81L3.3 2.86L1.6 2.89L0.0 2.90L-1.6 2.89L-3.3 2.86L-4.9 2.81L-6.6 2.73L-8.2 2.62L-9.8 2.46L-11.5 2.23L-13.1 1.83L-14.8 -0.80Z" transform="translate(1184.4 905.9) rotate(-1)" fill="#040404" opacity="0.76" filter="url(#b15)"/>
<path d="M-15.2 -1.00L-13.6 -4.32L-11.9 -4.49L-10.2 -4.48L-8.5 -4.41L-6.8 -4.33L-5.1 -4.26L-3.4 -4.20L-1.7 -4.16L0.0 -4.15L1.7 -4.16L3.4 -4.20L5.1 -4.26L6.8 -4.33L8.5 -4.41L10.2 -4.48L11.9 -4.49L13.6 -4.32L15.2 -1.00L15.2 -1.00L13.6 2.74L11.9 3.28L10.2 3.59L8.5 3.80L6.8 3.94L5.1 4.04L3.4 4.10L1.7 4.14L0.0 4.15L-1.7 4.14L-3.4 4.10L-5.1 4.04L-6.8 3.94L-8.5 3.80L-10.2 3.59L-11.9 3.28L-13.6 2.74L-15.2 -1.00Z" transform="translate(1184.4 917.9) rotate(-1)" fill="#040404" opacity="1.0" filter="url(#b1)"/>
<path d="M-14.8 -0.80L-13.1 -3.10L-11.5 -3.20L-9.8 -3.17L-8.2 -3.12L-6.6 -3.05L-4.9 -2.99L-3.3 -2.94L-1.6 -2.91L0.0 -2.90L1.6 -2.91L3.3 -2.94L4.9 -2.99L6.6 -3.05L8.2 -3.12L9.8 -3.17L11.5 -3.20L13.1 -3.10L14.8 -0.80L14.8 -0.80L13.1 1.83L11.5 2.23L9.8 2.46L8.2 2.62L6.6 2.73L4.9 2.81L3.3 2.86L1.6 2.89L0.0 2.90L-1.6 2.89L-3.3 2.86L-4.9 2.81L-6.6 2.73L-8.2 2.62L-9.8 2.46L-11.5 2.23L-13.1 1.83L-14.8 -0.80Z" transform="translate(1224.4 902.7) rotate(-1)" fill="#040404" opacity="0.76" filter="url(#b15)"/>
<path d="M-15.2 -1.00L-13.6 -4.32L-11.9 -4.49L-10.2 -4.48L-8.5 -4.41L-6.8 -4.33L-5.1 -4.26L-3.4 -4.20L-1.7 -4.16L0.0 -4.15L1.7 -4.16L3.4 -4.20L5.1 -4.26L6.8 -4.33L8.5 -4.41L10.2 -4.48L11.9 -4.49L13.6 -4.32L15.2 -1.00L15.2 -1.00L13.6 2.74L11.9 3.28L10.2 3.59L8.5 3.80L6.8 3.94L5.1 4.04L3.4 4.10L1.7 4.14L0.0 4.15L-1.7 4.14L-3.4 4.10L-5.1 4.04L-6.8 3.94L-8.5 3.80L-10.2 3.59L-11.9 3.28L-13.6 2.74L-15.2 -1.00Z" transform="translate(1224.4 915.7) rotate(-1)" fill="#040404" opacity="1.0" filter="url(#b1)"/>
<path d="M-14.8 -0.80L-13.1 -3.10L-11.5 -3.20L-9.8 -3.17L-8.2 -3.12L-6.6 -3.05L-4.9 -2.99L-3.3 -2.94L-1.6 -2.91L0.0 -2.90L1.6 -2.91L3.3 -2.94L4.9 -2.99L6.6 -3.05L8.2 -3.12L9.8 -3.17L11.5 -3.20L13.1 -3.10L14.8 -0.80L14.8 -0.80L13.1 1.83L11.5 2.23L9.8 2.46L8.2 2.62L6.6 2.73L4.9 2.81L3.3 2.86L1.6 2.89L0.0 2.90L-1.6 2.89L-3.3 2.86L-4.9 2.81L-6.6 2.73L-8.2 2.62L-9.8 2.46L-11.5 2.23L-13.1 1.83L-14.8 -0.80Z" transform="translate(1265.3 901.6)" fill="#040404" opacity="0.76" filter="url(#b15)"/>
<path d="M-15.2 -1.00L-13.6 -4.32L-11.9 -4.49L-10.2 -4.48L-8.5 -4.41L-6.8 -4.33L-5.1 -4.26L-3.4 -4.20L-1.7 -4.16L0.0 -4.15L1.7 -4.16L3.4 -4.20L5.1 -4.26L6.8 -4.33L8.5 -4.41L10.2 -4.48L11.9 -4.49L13.6 -4.32L15.2 -1.00L15.2 -1.00L13.6 2.74L11.9 3.28L10.2 3.59L8.5 3.80L6.8 3.94L5.1 4.04L3.4 4.10L1.7 4.14L0.0 4.15L-1.7 4.14L-3.4 4.10L-5.1 4.04L-6.8 3.94L-8.5 3.80L-10.2 3.59L-11.9 3.28L-13.6 2.74L-15.2 -1.00Z" transform="translate(1265.3 914.6)" fill="#040404" opacity="1.0" filter="url(#b1)"/>
<path d="M-14.8 -0.80L-13.1 -3.10L-11.5 -3.20L-9.8 -3.17L-8.2 -3.12L-6.6 -3.05L-4.9 -2.99L-3.3 -2.94L-1.6 -2.91L0.0 -2.90L1.6 -2.91L3.3 -2.94L4.9 -2.99L6.6 -3.05L8.2 -3.12L9.8 -3.17L11.5 -3.20L13.1 -3.10L14.8 -0.80L14.8 -0.80L13.1 1.83L11.5 2.23L9.8 2.46L8.2 2.62L6.6 2.73L4.9 2.81L3.3 2.86L1.6 2.89L0.0 2.90L-1.6 2.89L-3.3 2.86L-4.9 2.81L-6.6 2.73L-8.2 2.62L-9.8 2.46L-11.5 2.23L-13.1 1.83L-14.8 -0.80Z" transform="translate(1306.2 901.2) rotate(-1)" fill="#040404" opacity="0.76" filter="url(#b15)"/>
<path d="M-15.2 -1.00L-13.6 -4.32L-11.9 -4.49L-10.2 -4.48L-8.5 -4.41L-6.8 -4.33L-5.1 -4.26L-3.4 -4.20L-1.7 -4.16L0.0 -4.15L1.7 -4.16L3.4 -4.20L5.1 -4.26L6.8 -4.33L8.5 -4.41L10.2 -4.48L11.9 -4.49L13.6 -4.32L15.2 -1.00L15.2 -1.00L13.6 2.74L11.9 3.28L10.2 3.59L8.5 3.80L6.8 3.94L5.1 4.04L3.4 4.10L1.7 4.14L0.0 4.15L-1.7 4.14L-3.4 4.10L-5.1 4.04L-6.8 3.94L-8.5 3.80L-10.2 3.59L-11.9 3.28L-13.6 2.74L-15.2 -1.00Z" transform="translate(1306.2 914.2) rotate(-1)" fill="#040404" opacity="1.0" filter="url(#b1)"/>
<path d="M-14.8 -0.80L-13.1 -3.10L-11.5 -3.21L-9.8 -3.22L-8.2 -3.19L-6.6 -3.16L-4.9 -3.15L-3.3 -3.17L-1.6 -3.21L0.0 -3.27L1.6 -3.37L3.3 -3.50L4.9 -3.65L6.6 -3.83L8.2 -4.02L9.8 -4.22L11.5 -4.38L13.1 -4.44L14.8 -2.30L14.8 -2.30L13.1 0.50L11.5 1.04L9.8 1.42L8.2 1.71L6.6 1.95L4.9 2.14L3.3 2.30L1.6 2.43L0.0 2.52L-1.6 2.59L-3.3 2.63L-4.9 2.64L-6.6 2.62L-8.2 2.55L-9.8 2.42L-11.5 2.21L-13.1 1.83L-14.8 -0.80Z" transform="translate(1348.0 900.1) rotate(-2)" fill="#040404" opacity="0.76" filter="url(#b15)"/>
<path d="M-15.2 -1.00L-13.6 -4.32L-11.9 -4.50L-10.2 -4.52L-8.5 -4.49L-6.8 -4.45L-5.1 -4.42L-3.4 -4.43L-1.7 -4.46L0.0 -4.53L1.7 -4.63L3.4 -4.76L5.1 -4.92L6.8 -5.12L8.5 -5.32L10.2 -5.52L11.9 -5.67L13.6 -5.66L15.2 -2.50L15.2 -2.50L13.6 1.40L11.9 2.09L10.2 2.55L8.5 2.89L6.8 3.16L5.1 3.37L3.4 3.54L1.7 3.67L0.0 3.78L-1.7 3.84L-3.4 3.87L-5.1 3.87L-6.8 3.82L-8.5 3.72L-10.2 3.55L-11.9 3.26L-13.6 2.73L-15.2 -1.00Z" transform="translate(1348.0 913.5) rotate(-2)" fill="#040404" opacity="1.0" filter="url(#b1)"/>
<path d="M-14.8 -0.80L-13.1 -3.10L-11.5 -3.21L-9.8 -3.22L-8.2 -3.19L-6.6 -3.16L-4.9 -3.15L-3.3 -3.17L-1.6 -3.21L0.0 -3.27L1.6 -3.37L3.3 -3.50L4.9 -3.65L6.6 -3.83L8.2 -4.02L9.8 -4.22L11.5 -4.38L13.1 -4.44L14.8 -2.30L14.8 -2.30L13.1 0.50L11.5 1.04L9.8 1.42L8.2 1.71L6.6 1.95L4.9 2.14L3.3 2.30L1.6 2.43L0.0 2.52L-1.6 2.59L-3.3 2.63L-4.9 2.64L-6.6 2.62L-8.2 2.55L-9.8 2.42L-11.5 2.21L-13.1 1.83L-14.8 -0.80Z" transform="translate(1388.9 897.9) rotate(-4)" fill="#040404" opacity="0.76" filter="url(#b15)"/>
<path d="M-15.2 -1.00L-13.6 -4.32L-11.9 -4.50L-10.2 -4.52L-8.5 -4.49L-6.8 -4.45L-5.1 -4.42L-3.4 -4.43L-1.7 -4.46L0.0 -4.53L1.7 -4.63L3.4 -4.76L5.1 -4.92L6.8 -5.12L8.5 -5.32L10.2 -5.52L11.9 -5.67L13.6 -5.66L15.2 -2.50L15.2 -2.50L13.6 1.40L11.9 2.09L10.2 2.55L8.5 2.89L6.8 3.16L5.1 3.37L3.4 3.54L1.7 3.67L0.0 3.78L-1.7 3.84L-3.4 3.87L-5.1 3.87L-6.8 3.82L-8.5 3.72L-10.2 3.55L-11.9 3.26L-13.6 2.73L-15.2 -1.00Z" transform="translate(1388.9 910.9) rotate(-4)" fill="#040404" opacity="1.0" filter="url(#b1)"/>
<path d="M-14.5 -0.00L-12.9 -2.41L-11.3 -2.72L-9.7 -2.94L-8.1 -3.16L-6.4 -3.41L-4.8 -3.69L-3.2 -4.01L-1.6 -4.38L0.0 -4.80L1.6 -5.27L3.2 -5.79L4.8 -6.35L6.4 -6.96L8.1 -7.61L9.7 -8.28L11.3 -8.94L12.9 -9.52L14.5 -8.00L14.5 -8.00L12.9 -4.75L11.3 -3.70L9.7 -2.83L8.1 -2.07L6.4 -1.38L4.8 -0.76L3.2 -0.19L1.6 0.33L0.0 0.80L-1.6 1.22L-3.2 1.59L-4.8 1.91L-6.4 2.17L-8.1 2.37L-9.7 2.50L-11.3 2.52L-12.9 2.36L-14.5 0.00Z" transform="translate(1430.3 893.8)" fill="#040404" opacity="0.66" filter="url(#b15)"/>
<path d="M-15.0 -0.00L-13.3 -3.68L-11.7 -4.12L-10.0 -4.39L-8.3 -4.63L-6.7 -4.87L-5.0 -5.14L-3.3 -5.45L-1.7 -5.80L0.0 -6.20L1.7 -6.65L3.3 -7.14L5.0 -7.67L6.7 -8.25L8.3 -8.85L10.0 -9.46L11.7 -10.03L13.3 -10.44L15.0 -7.60L15.0 -7.60L13.3 -3.12L11.7 -1.98L10.0 -1.10L8.3 -0.34L6.7 0.32L5.0 0.92L3.3 1.46L1.7 1.95L0.0 2.40L-1.7 2.80L-3.3 3.15L-5.0 3.45L-6.7 3.70L-8.3 3.88L-10.0 3.97L-11.7 3.93L-13.3 3.63L-15.0 0.00Z" transform="translate(1430.5 907.4)" fill="#040404" opacity="1.0" filter="url(#b1)"/>
<text x="866.5" y="647" font-size="29" text-anchor="middle" >M</text>
<text x="907.7" y="646.8" font-size="29" text-anchor="middle" >0</text>
<text x="943.2" y="646.8" font-size="29" text-anchor="middle" >5</text>
<text x="978.4" y="646.8" font-size="29" text-anchor="middle" >20</text>
<text x="1022.5" y="646.8" font-size="29" text-anchor="middle" >60</text>
<text x="1062.3" y="646.8" font-size="29" text-anchor="middle" >5</text>
<text x="1098" y="646.8" font-size="29" text-anchor="middle" >20</text>
<text x="1140.4" y="646.8" font-size="29" text-anchor="middle" >60</text>
<text x="1179" y="646.8" font-size="29" text-anchor="middle" >5</text>
<text x="1219.4" y="646.8" font-size="29" text-anchor="middle" >20</text>
<text x="1260.4" y="646.8" font-size="29" text-anchor="middle" >60</text>
<text x="1304.5" y="646.8" font-size="29" text-anchor="middle" >5</text>
<text x="1342.2" y="646.8" font-size="29" text-anchor="middle" >20</text>
<text x="1381" y="646.8" font-size="29" text-anchor="middle" >60</text>
<text x="1419.3" y="643" font-size="29" text-anchor="middle" >5</text>
<text x="1153.5" y="590.7" font-size="29" text-anchor="middle" >S1PR1</text>
<path d="M895.8 608.3H1399" stroke="#000" stroke-width="5.4"/>
<text transform="translate(1398.5 583.4) rotate(-45)" font-size="30">Mock</text>
<text transform="translate(1422.7 608.8) rotate(-45)" font-size="30">FTY-P</text>
<path d="M1055.2 945.7H1152.6" stroke="#000" stroke-width="5"/>
<path d="M1302.3 945.7H1399.8" stroke="#000" stroke-width="5"/>
<text x="1106" y="975.8" font-size="29" text-anchor="middle" >CCG</text>
<text x="1352" y="975.8" font-size="29" text-anchor="middle" >CCG</text>
<path d="M929.2 998H1152.6" stroke="#000" stroke-width="5"/>
<path d="M1176.8 998H1440" stroke="#000" stroke-width="5"/>
<text x="1048.9" y="1032.4" font-size="29" text-anchor="middle" >S1P</text>
<text x="1297.7" y="1032.4" font-size="29" text-anchor="middle" >FTY-P</text>
</svg>
</body></html>
